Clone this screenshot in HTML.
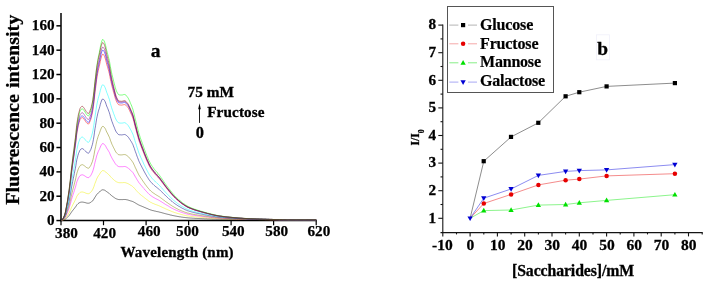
<!DOCTYPE html>
<html lang="en"><head><meta charset="utf-8"><title>Fluorescence spectra and saccharide response</title>
<style>html,body{margin:0;padding:0;background:#fff}svg{display:block}</style></head>
<body>
<svg width="709" height="285" viewBox="0 0 709 285">
<rect width="709" height="285" fill="#fff"/>
<g stroke="#000" stroke-width="1.5" fill="none">
<path d="M61.0 13.0 V221.20"/>
<path d="M60.25 220.55 H316.8" stroke-width="1.4"/>
<path d="M56.4 220.55 H61.0" stroke-width="1.5"/>
<path d="M56.4 196.21 H61.0" stroke-width="1.5"/>
<path d="M56.4 171.87 H61.0" stroke-width="1.5"/>
<path d="M56.4 147.53 H61.0" stroke-width="1.5"/>
<path d="M56.4 123.19 H61.0" stroke-width="1.5"/>
<path d="M56.4 98.85 H61.0" stroke-width="1.5"/>
<path d="M56.4 74.51 H61.0" stroke-width="1.5"/>
<path d="M56.4 50.17 H61.0" stroke-width="1.5"/>
<path d="M56.4 25.83 H61.0" stroke-width="1.5"/>
<path d="M61.0 220.55 V225.2" stroke-width="1.2"/>
<path d="M103.5 220.55 V225.2" stroke-width="1.2"/>
<path d="M146.1 220.55 V225.2" stroke-width="1.2"/>
<path d="M188.6 220.55 V225.2" stroke-width="1.2"/>
<path d="M231.1 220.55 V225.2" stroke-width="1.2"/>
<path d="M273.6 220.55 V225.2" stroke-width="1.2"/>
<path d="M316.2 220.55 V225.2" stroke-width="1.2"/>
</g>
<g fill="none" stroke-width="0.5" stroke-linejoin="round">
<path d="M61.0 220.6 L61.5 220.5 L62.1 220.4 L62.6 220.3 L63.1 220.2 L63.7 220.0 L64.2 219.8 L64.7 219.6 L65.3 219.2 L65.8 218.8 L66.3 218.4 L66.8 217.9 L67.4 217.4 L67.9 216.9 L68.4 216.3 L69.0 215.7 L69.5 215.0 L70.0 214.3 L70.6 213.5 L71.1 212.7 L71.6 211.9 L72.2 211.2 L72.7 210.5 L73.2 209.8 L73.8 209.2 L74.3 208.5 L74.8 207.8 L75.4 207.1 L75.9 206.4 L76.4 205.6 L76.9 204.8 L77.5 204.2 L78.0 203.7 L78.5 203.3 L79.1 203.0 L79.6 202.6 L80.1 202.4 L80.7 202.2 L81.2 202.1 L81.7 202.1 L82.3 202.1 L82.8 202.1 L83.3 202.2 L83.9 202.3 L84.4 202.4 L84.9 202.6 L85.5 202.7 L86.0 202.9 L86.5 203.0 L87.0 203.1 L87.6 203.2 L88.1 203.2 L88.6 203.2 L89.2 203.1 L89.7 202.9 L90.2 202.6 L90.8 202.3 L91.3 202.0 L91.8 201.5 L92.4 201.1 L92.9 200.5 L93.4 199.8 L94.0 199.0 L94.5 198.0 L95.0 197.2 L95.6 196.3 L96.1 195.5 L96.6 194.7 L97.2 194.1 L97.7 193.5 L98.2 193.0 L98.7 192.6 L99.3 192.1 L99.8 191.7 L100.3 191.1 L100.9 190.7 L101.4 190.3 L101.9 190.0 L102.5 189.8 L103.0 189.8 L103.5 189.9 L104.1 190.0 L104.6 190.2 L105.1 190.5 L105.7 190.9 L106.2 191.3 L106.7 191.7 L107.3 192.1 L107.8 192.4 L108.3 192.8 L108.8 193.1 L109.4 193.6 L109.9 194.1 L110.4 194.6 L111.0 195.1 L111.5 195.6 L112.0 196.0 L112.6 196.4 L113.1 196.8 L113.6 197.1 L114.2 197.5 L114.7 197.9 L115.2 198.2 L115.8 198.6 L116.3 198.8 L116.8 199.0 L117.4 199.2 L117.9 199.4 L118.4 199.5 L118.9 199.5 L119.5 199.6 L120.0 199.6 L120.5 199.6 L121.1 199.6 L121.6 199.6 L122.1 199.6 L122.7 199.6 L123.2 199.5 L123.7 199.5 L124.3 199.5 L124.8 199.5 L125.3 199.5 L125.9 199.6 L126.4 199.7 L126.9 199.8 L127.5 199.9 L128.0 200.1 L128.5 200.2 L129.0 200.4 L129.6 200.6 L130.1 200.8 L130.6 200.9 L131.2 201.1 L131.7 201.2 L132.2 201.4 L132.8 201.5 L133.3 201.8 L133.8 202.1 L134.4 202.4 L134.9 202.7 L135.4 203.0 L136.0 203.3 L136.5 203.7 L137.0 204.0 L137.6 204.3 L138.1 204.6 L138.6 204.9 L139.1 205.1 L139.7 205.4 L140.2 205.6 L140.7 205.8 L141.3 206.0 L141.8 206.3 L142.3 206.5 L142.9 206.7 L143.4 206.9 L143.9 207.2 L144.5 207.4 L145.0 207.6 L145.5 207.8 L146.1 208.1 L146.6 208.3 L147.1 208.5 L147.7 208.7 L148.2 209.0 L148.7 209.2 L149.2 209.4 L149.8 209.6 L150.3 209.8 L150.8 210.0 L151.4 210.2 L151.9 210.3 L152.4 210.5 L153.0 210.6 L153.5 210.7 L154.0 210.9 L154.6 211.0 L155.1 211.1 L155.6 211.2 L156.2 211.4 L156.7 211.5 L157.2 211.6 L157.8 211.7 L158.3 211.8 L158.8 211.9 L159.4 212.1 L159.9 212.2 L160.4 212.3 L160.9 212.5 L161.5 212.6 L162.0 212.8 L162.5 212.9 L163.1 213.1 L163.6 213.2 L164.1 213.3 L164.7 213.5 L165.2 213.6 L165.7 213.8 L166.3 213.9 L166.8 214.1 L167.3 214.2 L167.9 214.3 L168.4 214.4 L168.9 214.6 L169.5 214.7 L170.0 214.8 L170.5 215.0 L171.0 215.1 L171.6 215.2 L172.1 215.3 L172.6 215.5 L173.2 215.6 L173.7 215.7 L174.2 215.8 L174.8 215.9 L175.3 216.0 L175.8 216.1 L176.4 216.2 L176.9 216.3 L177.4 216.4 L178.0 216.5 L178.5 216.6 L179.0 216.7 L179.6 216.8 L180.1 216.8 L180.6 216.9 L181.1 217.0 L181.7 217.1 L182.2 217.2 L182.7 217.2 L183.3 217.3 L183.8 217.4 L184.3 217.4 L184.9 217.5 L185.4 217.6 L185.9 217.6 L186.5 217.7 L187.0 217.8 L187.5 217.8 L188.1 217.9 L188.6 217.9 L189.1 217.9 L189.7 218.0 L190.2 218.0 L190.7 218.1 L191.2 218.1 L191.8 218.1 L192.3 218.2 L192.8 218.2 L193.4 218.2 L193.9 218.3 L194.4 218.3 L195.0 218.3 L195.5 218.4 L196.0 218.4 L196.6 218.4 L197.1 218.4 L197.6 218.5 L198.2 218.5 L198.7 218.5 L199.2 218.5 L199.8 218.6 L200.3 218.6 L200.8 218.6 L201.3 218.6 L201.9 218.7 L202.4 218.7 L202.9 218.7 L203.5 218.7 L204.0 218.7 L204.5 218.8 L205.1 218.8 L205.6 218.8 L206.1 218.8 L206.7 218.8 L207.2 218.9 L207.7 218.9 L208.3 218.9 L208.8 218.9 L209.3 218.9 L209.9 219.0 L210.4 219.0 L210.9 219.0 L211.4 219.0 L212.0 219.0 L212.5 219.1 L213.0 219.1 L213.6 219.1 L214.1 219.1 L214.6 219.1 L215.2 219.1 L215.7 219.1 L216.2 219.2 L216.8 219.2 L217.3 219.2 L217.8 219.2 L218.4 219.2 L218.9 219.2 L219.4 219.2 L220.0 219.2 L220.5 219.2 L221.0 219.3 L221.6 219.3 L222.1 219.3 L222.6 219.3 L223.1 219.3 L223.7 219.3 L224.2 219.3 L224.7 219.3 L225.3 219.3 L225.8 219.3 L226.3 219.3 L226.9 219.3 L227.4 219.3 L227.9 219.3 L228.5 219.3 L229.0 219.4 L229.5 219.4 L230.1 219.4 L230.6 219.4 L231.1 219.4 L231.7 219.4 L232.2 219.4 L232.7 219.4 L233.2 219.4 L233.8 219.4 L234.3 219.4 L234.8 219.4 L235.4 219.4 L235.9 219.4 L236.4 219.4 L237.0 219.4 L237.5 219.5 L238.0 219.5 L238.6 219.5 L239.1 219.5 L239.6 219.5 L240.2 219.5 L240.7 219.5 L241.2 219.5 L241.8 219.5 L242.3 219.5 L242.8 219.5 L243.3 219.5 L243.9 219.5 L244.4 219.5 L244.9 219.6 L245.5 219.6 L246.0 219.6 L246.5 219.6 L247.1 219.6 L247.6 219.6 L248.1 219.6 L248.7 219.6 L249.2 219.6 L249.7 219.6 L250.3 219.6 L250.8 219.6 L251.3 219.6 L251.9 219.6 L252.4 219.6 L252.9 219.6 L253.4 219.6 L254.0 219.6 L254.5 219.6 L255.0 219.6 L255.6 219.6 L256.1 219.6 L256.6 219.7 L257.2 219.7 L257.7 219.7 L258.2 219.7 L258.8 219.7 L259.3 219.7 L259.8 219.7 L260.4 219.7 L260.9 219.7 L261.4 219.7 L262.0 219.7 L262.5 219.7 L263.0 219.7 L263.5 219.7 L264.1 219.7 L264.6 219.7 L265.1 219.7 L265.7 219.8 L266.2 219.8 L266.7 219.8 L267.3 219.8 L267.8 219.8 L268.3 219.8 L268.9 219.8 L269.4 219.8 L269.9 219.8 L270.5 219.8 L271.0 219.9 L271.5 219.9 L272.1 219.9 L272.6 219.9 L273.1 219.9 L273.6 219.9 L274.2 219.9 L274.7 219.9 L275.2 219.9 L275.8 220.0 L276.3 220.0 L276.8 220.0 L277.4 220.0 L277.9 220.0 L278.4 220.0 L279.0 220.0 L279.5 220.0 L280.0 220.0 L280.6 220.1 L281.1 220.1 L281.6 220.1 L282.2 220.1 L282.7 220.1 L283.2 220.1 L283.8 220.1 L284.3 220.1 L284.8 220.1 L285.3 220.1 L285.9 220.2 L286.4 220.2 L286.9 220.2 L287.5 220.2 L288.0 220.2 L288.5 220.2 L289.1 220.2 L289.6 220.2 L290.1 220.2 L290.7 220.2 L291.2 220.2 L291.7 220.2 L292.3 220.2 L292.8 220.2 L293.3 220.2 L293.9 220.2 L294.4 220.2 L294.9 220.2 L295.4 220.2 L296.0 220.2 L296.5 220.2 L297.0 220.2 L297.6 220.2 L298.1 220.2 L298.6 220.2 L299.2 220.2 L299.7 220.2 L300.2 220.2 L300.8 220.2 L301.3 220.2 L301.8 220.2 L302.4 220.2 L302.9 220.2 L303.4 220.2 L304.0 220.2 L304.5 220.2 L305.0 220.2 L305.5 220.2 L306.1 220.2 L306.6 220.2 L307.1 220.2 L307.7 220.2 L308.2 220.2 L308.7 220.2 L309.3 220.2 L309.8 220.2 L310.3 220.2 L310.9 220.2 L311.4 220.2 L311.9 220.2 L312.5 220.2 L313.0 220.2 L313.5 220.2 L314.1 220.2 L314.6 220.2 L315.1 220.2 L315.6 220.2 L316.2 220.2" stroke="#000000"/>
<path d="M61.0 220.6 L61.5 220.5 L62.1 220.4 L62.6 220.2 L63.1 220.0 L63.7 219.7 L64.2 219.4 L64.7 219.0 L65.3 218.5 L65.8 217.9 L66.3 217.2 L66.8 216.4 L67.4 215.7 L67.9 214.9 L68.4 214.0 L69.0 213.0 L69.5 212.0 L70.0 210.9 L70.6 209.7 L71.1 208.4 L71.6 207.2 L72.2 206.1 L72.7 205.0 L73.2 204.0 L73.8 202.9 L74.3 201.9 L74.8 200.9 L75.4 199.8 L75.9 198.6 L76.4 197.4 L76.9 196.2 L77.5 195.3 L78.0 194.6 L78.5 193.9 L79.1 193.4 L79.6 192.9 L80.1 192.5 L80.7 192.2 L81.2 192.1 L81.7 192.0 L82.3 192.0 L82.8 192.0 L83.3 192.2 L83.9 192.3 L84.4 192.5 L84.9 192.7 L85.5 193.0 L86.0 193.2 L86.5 193.4 L87.0 193.5 L87.6 193.7 L88.1 193.7 L88.6 193.7 L89.2 193.5 L89.7 193.1 L90.2 192.7 L90.8 192.2 L91.3 191.6 L91.8 190.9 L92.4 190.0 L92.9 189.1 L93.4 187.9 L94.0 186.4 L94.5 184.8 L95.0 183.3 L95.6 181.9 L96.1 180.5 L96.6 179.1 L97.2 177.9 L97.7 177.0 L98.2 176.1 L98.7 175.4 L99.3 174.6 L99.8 173.8 L100.3 172.9 L100.9 172.1 L101.4 171.5 L101.9 171.0 L102.5 170.6 L103.0 170.5 L103.5 170.7 L104.1 170.9 L104.6 171.1 L105.1 171.5 L105.7 171.9 L106.2 172.5 L106.7 173.0 L107.3 173.4 L107.8 173.8 L108.3 174.3 L108.8 174.7 L109.4 175.2 L109.9 175.8 L110.4 176.5 L111.0 177.2 L111.5 177.7 L112.0 178.2 L112.6 178.7 L113.1 179.2 L113.6 179.7 L114.2 180.1 L114.7 180.6 L115.2 181.0 L115.8 181.4 L116.3 181.7 L116.8 182.0 L117.4 182.2 L117.9 182.4 L118.4 182.6 L118.9 182.6 L119.5 182.7 L120.0 182.7 L120.5 182.7 L121.1 182.7 L121.6 182.7 L122.1 182.7 L122.7 182.7 L123.2 182.6 L123.7 182.6 L124.3 182.6 L124.8 182.6 L125.3 182.7 L125.9 182.8 L126.4 183.0 L126.9 183.2 L127.5 183.4 L128.0 183.6 L128.5 183.9 L129.0 184.2 L129.6 184.5 L130.1 184.9 L130.6 185.2 L131.2 185.5 L131.7 185.8 L132.2 186.2 L132.8 186.6 L133.3 187.0 L133.8 187.6 L134.4 188.2 L134.9 188.9 L135.4 189.5 L136.0 190.1 L136.5 190.7 L137.0 191.3 L137.6 191.9 L138.1 192.4 L138.6 193.0 L139.1 193.5 L139.7 193.9 L140.2 194.4 L140.7 194.8 L141.3 195.2 L141.8 195.7 L142.3 196.1 L142.9 196.5 L143.4 196.9 L143.9 197.3 L144.5 197.8 L145.0 198.2 L145.5 198.6 L146.1 199.0 L146.6 199.4 L147.1 199.8 L147.7 200.2 L148.2 200.6 L148.7 201.0 L149.2 201.4 L149.8 201.7 L150.3 202.1 L150.8 202.4 L151.4 202.6 L151.9 202.9 L152.4 203.2 L153.0 203.4 L153.5 203.6 L154.0 203.9 L154.6 204.1 L155.1 204.3 L155.6 204.5 L156.2 204.7 L156.7 204.9 L157.2 205.1 L157.8 205.3 L158.3 205.5 L158.8 205.7 L159.4 205.9 L159.9 206.2 L160.4 206.4 L160.9 206.6 L161.5 206.9 L162.0 207.1 L162.5 207.4 L163.1 207.6 L163.6 207.9 L164.1 208.1 L164.7 208.4 L165.2 208.6 L165.7 208.9 L166.3 209.1 L166.8 209.4 L167.3 209.6 L167.9 209.8 L168.4 210.0 L168.9 210.3 L169.5 210.5 L170.0 210.7 L170.5 210.9 L171.0 211.1 L171.6 211.4 L172.1 211.6 L172.6 211.8 L173.2 212.0 L173.7 212.2 L174.2 212.4 L174.8 212.5 L175.3 212.7 L175.8 212.9 L176.4 213.1 L176.9 213.2 L177.4 213.4 L178.0 213.6 L178.5 213.7 L179.0 213.9 L179.6 214.0 L180.1 214.2 L180.6 214.3 L181.1 214.5 L181.7 214.6 L182.2 214.7 L182.7 214.8 L183.3 215.0 L183.8 215.1 L184.3 215.2 L184.9 215.3 L185.4 215.4 L185.9 215.6 L186.5 215.7 L187.0 215.8 L187.5 215.9 L188.1 215.9 L188.6 216.0 L189.1 216.1 L189.7 216.2 L190.2 216.3 L190.7 216.3 L191.2 216.4 L191.8 216.5 L192.3 216.5 L192.8 216.6 L193.4 216.6 L193.9 216.7 L194.4 216.8 L195.0 216.8 L195.5 216.9 L196.0 216.9 L196.6 217.0 L197.1 217.0 L197.6 217.1 L198.2 217.1 L198.7 217.2 L199.2 217.2 L199.8 217.3 L200.3 217.3 L200.8 217.4 L201.3 217.4 L201.9 217.5 L202.4 217.5 L202.9 217.5 L203.5 217.6 L204.0 217.6 L204.5 217.7 L205.1 217.7 L205.6 217.8 L206.1 217.8 L206.7 217.8 L207.2 217.9 L207.7 217.9 L208.3 218.0 L208.8 218.0 L209.3 218.0 L209.9 218.1 L210.4 218.1 L210.9 218.2 L211.4 218.2 L212.0 218.2 L212.5 218.3 L213.0 218.3 L213.6 218.3 L214.1 218.4 L214.6 218.4 L215.2 218.4 L215.7 218.5 L216.2 218.5 L216.8 218.5 L217.3 218.6 L217.8 218.6 L218.4 218.6 L218.9 218.6 L219.4 218.7 L220.0 218.7 L220.5 218.7 L221.0 218.7 L221.6 218.7 L222.1 218.8 L222.6 218.8 L223.1 218.8 L223.7 218.8 L224.2 218.8 L224.7 218.8 L225.3 218.9 L225.8 218.9 L226.3 218.9 L226.9 218.9 L227.4 218.9 L227.9 218.9 L228.5 219.0 L229.0 219.0 L229.5 219.0 L230.1 219.0 L230.6 219.0 L231.1 219.0 L231.7 219.0 L232.2 219.0 L232.7 219.1 L233.2 219.1 L233.8 219.1 L234.3 219.1 L234.8 219.1 L235.4 219.1 L235.9 219.1 L236.4 219.2 L237.0 219.2 L237.5 219.2 L238.0 219.2 L238.6 219.2 L239.1 219.2 L239.6 219.2 L240.2 219.2 L240.7 219.3 L241.2 219.3 L241.8 219.3 L242.3 219.3 L242.8 219.3 L243.3 219.3 L243.9 219.3 L244.4 219.4 L244.9 219.4 L245.5 219.4 L246.0 219.4 L246.5 219.4 L247.1 219.4 L247.6 219.4 L248.1 219.4 L248.7 219.4 L249.2 219.4 L249.7 219.5 L250.3 219.5 L250.8 219.5 L251.3 219.5 L251.9 219.5 L252.4 219.5 L252.9 219.5 L253.4 219.5 L254.0 219.5 L254.5 219.5 L255.0 219.5 L255.6 219.5 L256.1 219.5 L256.6 219.5 L257.2 219.5 L257.7 219.5 L258.2 219.5 L258.8 219.6 L259.3 219.6 L259.8 219.6 L260.4 219.6 L260.9 219.6 L261.4 219.6 L262.0 219.6 L262.5 219.6 L263.0 219.6 L263.5 219.6 L264.1 219.6 L264.6 219.6 L265.1 219.7 L265.7 219.7 L266.2 219.7 L266.7 219.7 L267.3 219.7 L267.8 219.7 L268.3 219.7 L268.9 219.7 L269.4 219.7 L269.9 219.7 L270.5 219.8 L271.0 219.8 L271.5 219.8 L272.1 219.8 L272.6 219.8 L273.1 219.8 L273.6 219.8 L274.2 219.8 L274.7 219.9 L275.2 219.9 L275.8 219.9 L276.3 219.9 L276.8 219.9 L277.4 219.9 L277.9 219.9 L278.4 219.9 L279.0 220.0 L279.5 220.0 L280.0 220.0 L280.6 220.0 L281.1 220.0 L281.6 220.0 L282.2 220.0 L282.7 220.0 L283.2 220.1 L283.8 220.1 L284.3 220.1 L284.8 220.1 L285.3 220.1 L285.9 220.1 L286.4 220.1 L286.9 220.1 L287.5 220.1 L288.0 220.1 L288.5 220.1 L289.1 220.1 L289.6 220.2 L290.1 220.2 L290.7 220.2 L291.2 220.2 L291.7 220.2 L292.3 220.2 L292.8 220.2 L293.3 220.2 L293.9 220.2 L294.4 220.2 L294.9 220.2 L295.4 220.2 L296.0 220.2 L296.5 220.2 L297.0 220.2 L297.6 220.2 L298.1 220.2 L298.6 220.2 L299.2 220.2 L299.7 220.2 L300.2 220.2 L300.8 220.2 L301.3 220.2 L301.8 220.2 L302.4 220.2 L302.9 220.2 L303.4 220.2 L304.0 220.2 L304.5 220.2 L305.0 220.2 L305.5 220.2 L306.1 220.2 L306.6 220.2 L307.1 220.2 L307.7 220.2 L308.2 220.2 L308.7 220.2 L309.3 220.2 L309.8 220.2 L310.3 220.2 L310.9 220.2 L311.4 220.2 L311.9 220.2 L312.5 220.2 L313.0 220.2 L313.5 220.2 L314.1 220.2 L314.6 220.2 L315.1 220.2 L315.6 220.2 L316.2 220.2" stroke="#eeee00"/>
<path d="M61.0 220.6 L61.5 220.5 L62.1 220.3 L62.6 220.0 L63.1 219.6 L63.7 219.2 L64.2 218.7 L64.7 218.1 L65.3 217.3 L65.8 216.3 L66.3 215.2 L66.8 214.0 L67.4 212.8 L67.9 211.5 L68.4 210.0 L69.0 208.5 L69.5 206.8 L70.0 205.1 L70.6 203.1 L71.1 201.2 L71.6 199.2 L72.2 197.4 L72.7 195.7 L73.2 194.0 L73.8 192.4 L74.3 190.7 L74.8 189.0 L75.4 187.3 L75.9 185.5 L76.4 183.4 L76.9 181.7 L77.5 180.2 L78.0 179.0 L78.5 177.9 L79.1 177.0 L79.6 176.3 L80.1 175.6 L80.7 175.2 L81.2 175.0 L81.7 174.9 L82.3 174.8 L82.8 174.9 L83.3 175.1 L83.9 175.4 L84.4 175.7 L84.9 176.0 L85.5 176.4 L86.0 176.8 L86.5 177.1 L87.0 177.3 L87.6 177.5 L88.1 177.6 L88.6 177.6 L89.2 177.3 L89.7 176.8 L90.2 176.1 L90.8 175.4 L91.3 174.5 L91.8 173.4 L92.4 172.2 L92.9 170.8 L93.4 169.1 L94.0 166.9 L94.5 164.5 L95.0 162.3 L95.6 160.2 L96.1 158.1 L96.6 156.1 L97.2 154.4 L97.7 153.0 L98.2 151.7 L98.7 150.6 L99.3 149.5 L99.8 148.3 L100.3 147.0 L100.9 145.8 L101.4 144.9 L101.9 144.2 L102.5 143.6 L103.0 143.5 L103.5 143.8 L104.1 144.2 L104.6 144.7 L105.1 145.3 L105.7 146.2 L106.2 147.2 L106.7 148.2 L107.3 149.0 L107.8 149.8 L108.3 150.7 L108.8 151.5 L109.4 152.5 L109.9 153.7 L110.4 155.0 L111.0 156.2 L111.5 157.2 L112.0 158.2 L112.6 159.2 L113.1 160.1 L113.6 161.0 L114.2 161.8 L114.7 162.7 L115.2 163.5 L115.8 164.3 L116.3 164.9 L116.8 165.4 L117.4 165.8 L117.9 166.2 L118.4 166.5 L118.9 166.6 L119.5 166.7 L120.0 166.7 L120.5 166.7 L121.1 166.7 L121.6 166.7 L122.1 166.7 L122.7 166.7 L123.2 166.6 L123.7 166.6 L124.3 166.5 L124.8 166.5 L125.3 166.6 L125.9 166.8 L126.4 167.0 L126.9 167.3 L127.5 167.7 L128.0 168.0 L128.5 168.3 L129.0 168.8 L129.6 169.3 L130.1 169.8 L130.6 170.4 L131.2 170.8 L131.7 171.3 L132.2 171.9 L132.8 172.5 L133.3 173.2 L133.8 174.1 L134.4 175.0 L134.9 176.0 L135.4 176.9 L136.0 177.8 L136.5 178.7 L137.0 179.6 L137.6 180.5 L138.1 181.3 L138.6 182.1 L139.1 182.9 L139.7 183.5 L140.2 184.2 L140.7 184.9 L141.3 185.5 L141.8 186.1 L142.3 186.7 L142.9 187.4 L143.4 188.0 L143.9 188.6 L144.5 189.2 L145.0 189.8 L145.5 190.4 L146.1 191.0 L146.6 191.6 L147.1 192.2 L147.7 192.7 L148.2 193.3 L148.7 193.8 L149.2 194.3 L149.8 194.8 L150.3 195.2 L150.8 195.6 L151.4 196.0 L151.9 196.4 L152.4 196.7 L153.0 197.1 L153.5 197.4 L154.0 197.7 L154.6 198.0 L155.1 198.3 L155.6 198.6 L156.2 198.9 L156.7 199.1 L157.2 199.4 L157.8 199.7 L158.3 199.9 L158.8 200.2 L159.4 200.5 L159.9 200.9 L160.4 201.2 L160.9 201.5 L161.5 201.8 L162.0 202.2 L162.5 202.5 L163.1 202.9 L163.6 203.2 L164.1 203.5 L164.7 203.9 L165.2 204.2 L165.7 204.6 L166.3 204.9 L166.8 205.2 L167.3 205.5 L167.9 205.8 L168.4 206.1 L168.9 206.4 L169.5 206.8 L170.0 207.1 L170.5 207.4 L171.0 207.7 L171.6 208.0 L172.1 208.2 L172.6 208.5 L173.2 208.8 L173.7 209.1 L174.2 209.3 L174.8 209.6 L175.3 209.8 L175.8 210.1 L176.4 210.3 L176.9 210.5 L177.4 210.7 L178.0 211.0 L178.5 211.2 L179.0 211.4 L179.6 211.6 L180.1 211.8 L180.6 212.0 L181.1 212.2 L181.7 212.4 L182.2 212.6 L182.7 212.7 L183.3 212.9 L183.8 213.1 L184.3 213.2 L184.9 213.4 L185.4 213.6 L185.9 213.7 L186.5 213.9 L187.0 214.0 L187.5 214.1 L188.1 214.3 L188.6 214.4 L189.1 214.5 L189.7 214.6 L190.2 214.7 L190.7 214.8 L191.2 214.9 L191.8 215.0 L192.3 215.1 L192.8 215.2 L193.4 215.2 L193.9 215.3 L194.4 215.4 L195.0 215.5 L195.5 215.6 L196.0 215.6 L196.6 215.7 L197.1 215.8 L197.6 215.9 L198.2 215.9 L198.7 216.0 L199.2 216.1 L199.8 216.1 L200.3 216.2 L200.8 216.3 L201.3 216.3 L201.9 216.4 L202.4 216.5 L202.9 216.5 L203.5 216.6 L204.0 216.6 L204.5 216.7 L205.1 216.8 L205.6 216.8 L206.1 216.9 L206.7 217.0 L207.2 217.0 L207.7 217.1 L208.3 217.1 L208.8 217.2 L209.3 217.3 L209.9 217.3 L210.4 217.4 L210.9 217.4 L211.4 217.5 L212.0 217.5 L212.5 217.6 L213.0 217.6 L213.6 217.7 L214.1 217.7 L214.6 217.8 L215.2 217.8 L215.7 217.9 L216.2 217.9 L216.8 218.0 L217.3 218.0 L217.8 218.0 L218.4 218.1 L218.9 218.1 L219.4 218.1 L220.0 218.2 L220.5 218.2 L221.0 218.2 L221.6 218.3 L222.1 218.3 L222.6 218.3 L223.1 218.4 L223.7 218.4 L224.2 218.4 L224.7 218.4 L225.3 218.5 L225.8 218.5 L226.3 218.5 L226.9 218.5 L227.4 218.6 L227.9 218.6 L228.5 218.6 L229.0 218.6 L229.5 218.6 L230.1 218.7 L230.6 218.7 L231.1 218.7 L231.7 218.7 L232.2 218.7 L232.7 218.8 L233.2 218.8 L233.8 218.8 L234.3 218.8 L234.8 218.8 L235.4 218.9 L235.9 218.9 L236.4 218.9 L237.0 218.9 L237.5 218.9 L238.0 219.0 L238.6 219.0 L239.1 219.0 L239.6 219.0 L240.2 219.0 L240.7 219.0 L241.2 219.1 L241.8 219.1 L242.3 219.1 L242.8 219.1 L243.3 219.1 L243.9 219.2 L244.4 219.2 L244.9 219.2 L245.5 219.2 L246.0 219.2 L246.5 219.2 L247.1 219.3 L247.6 219.3 L248.1 219.3 L248.7 219.3 L249.2 219.3 L249.7 219.3 L250.3 219.3 L250.8 219.3 L251.3 219.3 L251.9 219.4 L252.4 219.4 L252.9 219.4 L253.4 219.4 L254.0 219.4 L254.5 219.4 L255.0 219.4 L255.6 219.4 L256.1 219.4 L256.6 219.4 L257.2 219.4 L257.7 219.4 L258.2 219.4 L258.8 219.5 L259.3 219.5 L259.8 219.5 L260.4 219.5 L260.9 219.5 L261.4 219.5 L262.0 219.5 L262.5 219.5 L263.0 219.5 L263.5 219.5 L264.1 219.5 L264.6 219.6 L265.1 219.6 L265.7 219.6 L266.2 219.6 L266.7 219.6 L267.3 219.6 L267.8 219.6 L268.3 219.6 L268.9 219.7 L269.4 219.7 L269.9 219.7 L270.5 219.7 L271.0 219.7 L271.5 219.7 L272.1 219.7 L272.6 219.7 L273.1 219.8 L273.6 219.8 L274.2 219.8 L274.7 219.8 L275.2 219.8 L275.8 219.8 L276.3 219.8 L276.8 219.8 L277.4 219.9 L277.9 219.9 L278.4 219.9 L279.0 219.9 L279.5 219.9 L280.0 219.9 L280.6 219.9 L281.1 220.0 L281.6 220.0 L282.2 220.0 L282.7 220.0 L283.2 220.0 L283.8 220.0 L284.3 220.0 L284.8 220.0 L285.3 220.0 L285.9 220.1 L286.4 220.1 L286.9 220.1 L287.5 220.1 L288.0 220.1 L288.5 220.1 L289.1 220.1 L289.6 220.1 L290.1 220.1 L290.7 220.1 L291.2 220.1 L291.7 220.1 L292.3 220.1 L292.8 220.1 L293.3 220.1 L293.9 220.1 L294.4 220.1 L294.9 220.1 L295.4 220.1 L296.0 220.1 L296.5 220.1 L297.0 220.1 L297.6 220.1 L298.1 220.1 L298.6 220.1 L299.2 220.1 L299.7 220.1 L300.2 220.1 L300.8 220.1 L301.3 220.1 L301.8 220.1 L302.4 220.1 L302.9 220.1 L303.4 220.1 L304.0 220.1 L304.5 220.1 L305.0 220.1 L305.5 220.1 L306.1 220.1 L306.6 220.1 L307.1 220.1 L307.7 220.1 L308.2 220.1 L308.7 220.1 L309.3 220.1 L309.8 220.1 L310.3 220.1 L310.9 220.1 L311.4 220.1 L311.9 220.1 L312.5 220.1 L313.0 220.1 L313.5 220.1 L314.1 220.1 L314.6 220.1 L315.1 220.1 L315.6 220.1 L316.2 220.1" stroke="#ff00ff"/>
<path d="M61.0 220.6 L61.5 220.5 L62.1 220.2 L62.6 219.9 L63.1 219.4 L63.7 218.9 L64.2 218.3 L64.7 217.6 L65.3 216.6 L65.8 215.4 L66.3 214.0 L66.8 212.5 L67.4 211.1 L67.9 209.5 L68.4 207.7 L69.0 205.8 L69.5 203.8 L70.0 201.6 L70.6 199.3 L71.1 196.9 L71.6 194.5 L72.2 192.3 L72.7 190.2 L73.2 188.2 L73.8 186.1 L74.3 184.1 L74.8 182.1 L75.4 180.0 L75.9 177.7 L76.4 175.3 L76.9 173.1 L77.5 171.3 L78.0 169.8 L78.5 168.5 L79.1 167.4 L79.6 166.5 L80.1 165.7 L80.7 165.2 L81.2 165.0 L81.7 164.8 L82.3 164.7 L82.8 164.8 L83.3 165.1 L83.9 165.4 L84.4 165.8 L84.9 166.2 L85.5 166.7 L86.0 167.1 L86.5 167.5 L87.0 167.8 L87.6 168.0 L88.1 168.2 L88.6 168.2 L89.2 167.8 L89.7 167.1 L90.2 166.3 L90.8 165.4 L91.3 164.3 L91.8 163.0 L92.4 161.5 L92.9 159.8 L93.4 157.7 L94.0 154.9 L94.5 152.0 L95.0 149.3 L95.6 146.8 L96.1 144.2 L96.6 141.8 L97.2 139.6 L97.7 137.9 L98.2 136.3 L98.7 135.0 L99.3 133.6 L99.8 132.1 L100.3 130.6 L100.9 129.1 L101.4 127.9 L101.9 127.0 L102.5 126.4 L103.0 126.3 L103.5 126.6 L104.1 127.1 L104.6 127.7 L105.1 128.4 L105.7 129.5 L106.2 130.8 L106.7 132.0 L107.3 133.0 L107.8 134.0 L108.3 135.0 L108.8 136.1 L109.4 137.3 L109.9 138.7 L110.4 140.3 L111.0 141.8 L111.5 143.1 L112.0 144.4 L112.6 145.5 L113.1 146.7 L113.6 147.7 L114.2 148.8 L114.7 149.8 L115.2 150.9 L115.8 151.9 L116.3 152.6 L116.8 153.2 L117.4 153.7 L117.9 154.2 L118.4 154.6 L118.9 154.7 L119.5 154.8 L120.0 154.8 L120.5 154.9 L121.1 154.9 L121.6 154.9 L122.1 154.8 L122.7 154.8 L123.2 154.7 L123.7 154.6 L124.3 154.6 L124.8 154.6 L125.3 154.7 L125.9 154.9 L126.4 155.2 L126.9 155.6 L127.5 156.0 L128.0 156.4 L128.5 156.8 L129.0 157.4 L129.6 158.0 L130.1 158.7 L130.6 159.3 L131.2 160.0 L131.7 160.6 L132.2 161.4 L132.8 162.2 L133.3 163.1 L133.8 164.2 L134.4 165.4 L134.9 166.6 L135.4 167.8 L136.0 168.9 L136.5 170.1 L137.0 171.2 L137.6 172.3 L138.1 173.4 L138.6 174.4 L139.1 175.3 L139.7 176.2 L140.2 177.0 L140.7 177.8 L141.3 178.6 L141.8 179.4 L142.3 180.2 L142.9 181.0 L143.4 181.8 L143.9 182.5 L144.5 183.3 L145.0 184.1 L145.5 184.8 L146.1 185.5 L146.6 186.2 L147.1 186.9 L147.7 187.6 L148.2 188.2 L148.7 188.8 L149.2 189.5 L149.8 190.0 L150.3 190.5 L150.8 191.0 L151.4 191.5 L151.9 191.9 L152.4 192.3 L153.0 192.7 L153.5 193.1 L154.0 193.5 L154.6 193.8 L155.1 194.2 L155.6 194.5 L156.2 194.9 L156.7 195.2 L157.2 195.5 L157.8 195.8 L158.3 196.1 L158.8 196.5 L159.4 196.8 L159.9 197.2 L160.4 197.6 L160.9 198.0 L161.5 198.4 L162.0 198.8 L162.5 199.2 L163.1 199.6 L163.6 200.0 L164.1 200.4 L164.7 200.8 L165.2 201.2 L165.7 201.6 L166.3 202.0 L166.8 202.4 L167.3 202.7 L167.9 203.1 L168.4 203.5 L168.9 203.8 L169.5 204.2 L170.0 204.6 L170.5 204.9 L171.0 205.3 L171.6 205.6 L172.1 206.0 L172.6 206.3 L173.2 206.6 L173.7 206.9 L174.2 207.2 L174.8 207.5 L175.3 207.8 L175.8 208.1 L176.4 208.4 L176.9 208.7 L177.4 208.9 L178.0 209.2 L178.5 209.5 L179.0 209.7 L179.6 210.0 L180.1 210.2 L180.6 210.4 L181.1 210.7 L181.7 210.9 L182.2 211.1 L182.7 211.3 L183.3 211.5 L183.8 211.7 L184.3 211.9 L184.9 212.1 L185.4 212.3 L185.9 212.5 L186.5 212.6 L187.0 212.8 L187.5 213.0 L188.1 213.1 L188.6 213.2 L189.1 213.4 L189.7 213.5 L190.2 213.6 L190.7 213.7 L191.2 213.9 L191.8 214.0 L192.3 214.1 L192.8 214.2 L193.4 214.3 L193.9 214.4 L194.4 214.5 L195.0 214.6 L195.5 214.7 L196.0 214.8 L196.6 214.8 L197.1 214.9 L197.6 215.0 L198.2 215.1 L198.7 215.2 L199.2 215.3 L199.8 215.3 L200.3 215.4 L200.8 215.5 L201.3 215.6 L201.9 215.7 L202.4 215.7 L202.9 215.8 L203.5 215.9 L204.0 216.0 L204.5 216.1 L205.1 216.1 L205.6 216.2 L206.1 216.3 L206.7 216.4 L207.2 216.4 L207.7 216.5 L208.3 216.6 L208.8 216.6 L209.3 216.7 L209.9 216.8 L210.4 216.8 L210.9 216.9 L211.4 217.0 L212.0 217.0 L212.5 217.1 L213.0 217.2 L213.6 217.2 L214.1 217.3 L214.6 217.3 L215.2 217.4 L215.7 217.5 L216.2 217.5 L216.8 217.6 L217.3 217.6 L217.8 217.7 L218.4 217.7 L218.9 217.8 L219.4 217.8 L220.0 217.8 L220.5 217.9 L221.0 217.9 L221.6 218.0 L222.1 218.0 L222.6 218.0 L223.1 218.1 L223.7 218.1 L224.2 218.1 L224.7 218.2 L225.3 218.2 L225.8 218.2 L226.3 218.2 L226.9 218.3 L227.4 218.3 L227.9 218.3 L228.5 218.4 L229.0 218.4 L229.5 218.4 L230.1 218.4 L230.6 218.5 L231.1 218.5 L231.7 218.5 L232.2 218.5 L232.7 218.6 L233.2 218.6 L233.8 218.6 L234.3 218.6 L234.8 218.7 L235.4 218.7 L235.9 218.7 L236.4 218.7 L237.0 218.8 L237.5 218.8 L238.0 218.8 L238.6 218.8 L239.1 218.8 L239.6 218.9 L240.2 218.9 L240.7 218.9 L241.2 218.9 L241.8 218.9 L242.3 219.0 L242.8 219.0 L243.3 219.0 L243.9 219.0 L244.4 219.1 L244.9 219.1 L245.5 219.1 L246.0 219.1 L246.5 219.1 L247.1 219.2 L247.6 219.2 L248.1 219.2 L248.7 219.2 L249.2 219.2 L249.7 219.2 L250.3 219.2 L250.8 219.2 L251.3 219.3 L251.9 219.3 L252.4 219.3 L252.9 219.3 L253.4 219.3 L254.0 219.3 L254.5 219.3 L255.0 219.3 L255.6 219.3 L256.1 219.3 L256.6 219.4 L257.2 219.4 L257.7 219.4 L258.2 219.4 L258.8 219.4 L259.3 219.4 L259.8 219.4 L260.4 219.4 L260.9 219.4 L261.4 219.4 L262.0 219.4 L262.5 219.5 L263.0 219.5 L263.5 219.5 L264.1 219.5 L264.6 219.5 L265.1 219.5 L265.7 219.5 L266.2 219.5 L266.7 219.5 L267.3 219.6 L267.8 219.6 L268.3 219.6 L268.9 219.6 L269.4 219.6 L269.9 219.6 L270.5 219.6 L271.0 219.7 L271.5 219.7 L272.1 219.7 L272.6 219.7 L273.1 219.7 L273.6 219.7 L274.2 219.7 L274.7 219.7 L275.2 219.8 L275.8 219.8 L276.3 219.8 L276.8 219.8 L277.4 219.8 L277.9 219.8 L278.4 219.8 L279.0 219.9 L279.5 219.9 L280.0 219.9 L280.6 219.9 L281.1 219.9 L281.6 219.9 L282.2 219.9 L282.7 220.0 L283.2 220.0 L283.8 220.0 L284.3 220.0 L284.8 220.0 L285.3 220.0 L285.9 220.0 L286.4 220.0 L286.9 220.0 L287.5 220.0 L288.0 220.1 L288.5 220.1 L289.1 220.1 L289.6 220.1 L290.1 220.1 L290.7 220.1 L291.2 220.1 L291.7 220.1 L292.3 220.1 L292.8 220.1 L293.3 220.1 L293.9 220.1 L294.4 220.1 L294.9 220.1 L295.4 220.1 L296.0 220.1 L296.5 220.1 L297.0 220.1 L297.6 220.1 L298.1 220.1 L298.6 220.1 L299.2 220.1 L299.7 220.1 L300.2 220.1 L300.8 220.1 L301.3 220.1 L301.8 220.1 L302.4 220.1 L302.9 220.1 L303.4 220.1 L304.0 220.1 L304.5 220.1 L305.0 220.1 L305.5 220.1 L306.1 220.1 L306.6 220.1 L307.1 220.1 L307.7 220.1 L308.2 220.1 L308.7 220.1 L309.3 220.1 L309.8 220.1 L310.3 220.1 L310.9 220.1 L311.4 220.1 L311.9 220.1 L312.5 220.1 L313.0 220.1 L313.5 220.1 L314.1 220.1 L314.6 220.1 L315.1 220.1 L315.6 220.1 L316.2 220.1" stroke="#808000"/>
<path d="M61.0 220.6 L61.5 220.4 L62.1 220.1 L62.6 219.7 L63.1 219.1 L63.7 218.4 L64.2 217.7 L64.7 216.7 L65.3 215.4 L65.8 213.9 L66.3 212.1 L66.8 210.2 L67.4 208.3 L67.9 206.3 L68.4 204.0 L69.0 201.5 L69.5 199.0 L70.0 196.2 L70.6 193.2 L71.1 190.1 L71.6 187.0 L72.2 184.2 L72.7 181.5 L73.2 178.8 L73.8 176.2 L74.3 173.6 L74.8 171.0 L75.4 168.3 L75.9 165.4 L76.4 162.2 L76.9 159.4 L77.5 157.2 L78.0 155.2 L78.5 153.5 L79.1 152.2 L79.6 150.9 L80.1 150.0 L80.7 149.3 L81.2 149.0 L81.7 148.7 L82.3 148.6 L82.8 148.8 L83.3 149.1 L83.9 149.6 L84.4 150.1 L84.9 150.6 L85.5 151.2 L86.0 151.8 L86.5 152.2 L87.0 152.6 L87.6 152.9 L88.1 153.1 L88.6 153.1 L89.2 152.6 L89.7 151.7 L90.2 150.6 L90.8 149.5 L91.3 148.1 L91.8 146.4 L92.4 144.5 L92.9 142.3 L93.4 139.5 L94.0 136.0 L94.5 132.2 L95.0 128.7 L95.6 125.4 L96.1 122.1 L96.6 118.9 L97.2 116.2 L97.7 113.9 L98.2 111.9 L98.7 110.1 L99.3 108.4 L99.8 106.5 L100.3 104.4 L100.9 102.5 L101.4 101.0 L101.9 99.9 L102.5 99.0 L103.0 98.9 L103.5 99.3 L104.1 99.9 L104.6 100.6 L105.1 101.6 L105.7 103.0 L106.2 104.6 L106.7 106.1 L107.3 107.4 L107.8 108.6 L108.3 109.9 L108.8 111.3 L109.4 112.8 L109.9 114.6 L110.4 116.6 L111.0 118.5 L111.5 120.1 L112.0 121.6 L112.6 123.1 L113.1 124.5 L113.6 125.9 L114.2 127.2 L114.7 128.5 L115.2 129.9 L115.8 131.1 L116.3 132.0 L116.8 132.7 L117.4 133.4 L117.9 134.0 L118.4 134.5 L118.9 134.7 L119.5 134.8 L120.0 134.8 L120.5 134.8 L121.1 134.9 L121.6 134.9 L122.1 134.8 L122.7 134.8 L123.2 134.7 L123.7 134.6 L124.3 134.5 L124.8 134.5 L125.3 134.7 L125.9 135.0 L126.4 135.4 L126.9 135.8 L127.5 136.3 L128.0 136.8 L128.5 137.4 L129.0 138.2 L129.6 139.0 L130.1 139.8 L130.6 140.7 L131.2 141.5 L131.7 142.4 L132.2 143.3 L132.8 144.4 L133.3 145.7 L133.8 147.1 L134.4 148.6 L134.9 150.2 L135.4 151.7 L136.0 153.2 L136.5 154.7 L137.0 156.2 L137.6 157.6 L138.1 159.0 L138.6 160.3 L139.1 161.5 L139.7 162.7 L140.2 163.8 L140.7 164.8 L141.3 165.9 L141.8 166.9 L142.3 167.9 L142.9 168.9 L143.4 169.9 L143.9 171.0 L144.5 172.0 L145.0 173.0 L145.5 173.9 L146.1 174.9 L146.6 175.8 L147.1 176.7 L147.7 177.5 L148.2 178.4 L148.7 179.2 L149.2 180.0 L149.8 180.7 L150.3 181.4 L150.8 182.0 L151.4 182.6 L151.9 183.2 L152.4 183.7 L153.0 184.2 L153.5 184.7 L154.0 185.2 L154.6 185.7 L155.1 186.2 L155.6 186.6 L156.2 187.0 L156.7 187.4 L157.2 187.8 L157.8 188.3 L158.3 188.7 L158.8 189.1 L159.4 189.6 L159.9 190.1 L160.4 190.6 L160.9 191.1 L161.5 191.6 L162.0 192.1 L162.5 192.7 L163.1 193.2 L163.6 193.7 L164.1 194.3 L164.7 194.8 L165.2 195.3 L165.7 195.8 L166.3 196.3 L166.8 196.8 L167.3 197.3 L167.9 197.8 L168.4 198.3 L168.9 198.8 L169.5 199.2 L170.0 199.7 L170.5 200.2 L171.0 200.6 L171.6 201.1 L172.1 201.5 L172.6 202.0 L173.2 202.4 L173.7 202.8 L174.2 203.2 L174.8 203.6 L175.3 204.0 L175.8 204.3 L176.4 204.7 L176.9 205.0 L177.4 205.4 L178.0 205.7 L178.5 206.1 L179.0 206.4 L179.6 206.7 L180.1 207.0 L180.6 207.3 L181.1 207.6 L181.7 207.9 L182.2 208.2 L182.7 208.5 L183.3 208.7 L183.8 209.0 L184.3 209.3 L184.9 209.5 L185.4 209.8 L185.9 210.0 L186.5 210.2 L187.0 210.4 L187.5 210.7 L188.1 210.8 L188.6 211.0 L189.1 211.2 L189.7 211.4 L190.2 211.5 L190.7 211.7 L191.2 211.8 L191.8 212.0 L192.3 212.1 L192.8 212.3 L193.4 212.4 L193.9 212.5 L194.4 212.7 L195.0 212.8 L195.5 212.9 L196.0 213.0 L196.6 213.2 L197.1 213.3 L197.6 213.4 L198.2 213.5 L198.7 213.6 L199.2 213.7 L199.8 213.8 L200.3 213.9 L200.8 214.0 L201.3 214.1 L201.9 214.2 L202.4 214.3 L202.9 214.5 L203.5 214.6 L204.0 214.7 L204.5 214.8 L205.1 214.9 L205.6 215.0 L206.1 215.1 L206.7 215.2 L207.2 215.3 L207.7 215.4 L208.3 215.5 L208.8 215.6 L209.3 215.7 L209.9 215.7 L210.4 215.8 L210.9 215.9 L211.4 216.0 L212.0 216.1 L212.5 216.2 L213.0 216.3 L213.6 216.4 L214.1 216.4 L214.6 216.5 L215.2 216.6 L215.7 216.7 L216.2 216.7 L216.8 216.8 L217.3 216.9 L217.8 216.9 L218.4 217.0 L218.9 217.1 L219.4 217.1 L220.0 217.2 L220.5 217.2 L221.0 217.3 L221.6 217.3 L222.1 217.4 L222.6 217.4 L223.1 217.5 L223.7 217.5 L224.2 217.6 L224.7 217.6 L225.3 217.7 L225.8 217.7 L226.3 217.7 L226.9 217.8 L227.4 217.8 L227.9 217.8 L228.5 217.9 L229.0 217.9 L229.5 218.0 L230.1 218.0 L230.6 218.0 L231.1 218.1 L231.7 218.1 L232.2 218.1 L232.7 218.2 L233.2 218.2 L233.8 218.2 L234.3 218.3 L234.8 218.3 L235.4 218.3 L235.9 218.4 L236.4 218.4 L237.0 218.4 L237.5 218.5 L238.0 218.5 L238.6 218.5 L239.1 218.5 L239.6 218.6 L240.2 218.6 L240.7 218.6 L241.2 218.7 L241.8 218.7 L242.3 218.7 L242.8 218.7 L243.3 218.8 L243.9 218.8 L244.4 218.8 L244.9 218.9 L245.5 218.9 L246.0 218.9 L246.5 218.9 L247.1 218.9 L247.6 219.0 L248.1 219.0 L248.7 219.0 L249.2 219.0 L249.7 219.0 L250.3 219.1 L250.8 219.1 L251.3 219.1 L251.9 219.1 L252.4 219.1 L252.9 219.1 L253.4 219.1 L254.0 219.2 L254.5 219.2 L255.0 219.2 L255.6 219.2 L256.1 219.2 L256.6 219.2 L257.2 219.2 L257.7 219.2 L258.2 219.2 L258.8 219.3 L259.3 219.3 L259.8 219.3 L260.4 219.3 L260.9 219.3 L261.4 219.3 L262.0 219.3 L262.5 219.3 L263.0 219.4 L263.5 219.4 L264.1 219.4 L264.6 219.4 L265.1 219.4 L265.7 219.4 L266.2 219.4 L266.7 219.4 L267.3 219.5 L267.8 219.5 L268.3 219.5 L268.9 219.5 L269.4 219.5 L269.9 219.5 L270.5 219.5 L271.0 219.6 L271.5 219.6 L272.1 219.6 L272.6 219.6 L273.1 219.6 L273.6 219.6 L274.2 219.6 L274.7 219.7 L275.2 219.7 L275.8 219.7 L276.3 219.7 L276.8 219.7 L277.4 219.7 L277.9 219.8 L278.4 219.8 L279.0 219.8 L279.5 219.8 L280.0 219.8 L280.6 219.8 L281.1 219.8 L281.6 219.9 L282.2 219.9 L282.7 219.9 L283.2 219.9 L283.8 219.9 L284.3 219.9 L284.8 219.9 L285.3 219.9 L285.9 220.0 L286.4 220.0 L286.9 220.0 L287.5 220.0 L288.0 220.0 L288.5 220.0 L289.1 220.0 L289.6 220.0 L290.1 220.0 L290.7 220.0 L291.2 220.0 L291.7 220.0 L292.3 220.0 L292.8 220.0 L293.3 220.0 L293.9 220.0 L294.4 220.0 L294.9 220.0 L295.4 220.0 L296.0 220.0 L296.5 220.0 L297.0 220.0 L297.6 220.0 L298.1 220.0 L298.6 220.0 L299.2 220.0 L299.7 220.0 L300.2 220.0 L300.8 220.0 L301.3 220.0 L301.8 220.0 L302.4 220.0 L302.9 220.0 L303.4 220.0 L304.0 220.0 L304.5 220.0 L305.0 220.0 L305.5 220.0 L306.1 220.0 L306.6 220.0 L307.1 220.0 L307.7 220.0 L308.2 220.0 L308.7 220.0 L309.3 220.0 L309.8 220.0 L310.3 220.0 L310.9 220.0 L311.4 220.0 L311.9 220.0 L312.5 220.0 L313.0 220.0 L313.5 220.0 L314.1 220.0 L314.6 220.0 L315.1 220.0 L315.6 220.0 L316.2 220.0" stroke="#000080"/>
<path d="M61.0 220.6 L61.5 220.4 L62.1 220.1 L62.6 219.5 L63.1 218.8 L63.7 218.0 L64.2 217.2 L64.7 216.1 L65.3 214.6 L65.8 212.8 L66.3 210.7 L66.8 208.6 L67.4 206.4 L67.9 204.0 L68.4 201.3 L69.0 198.5 L69.5 195.5 L70.0 192.3 L70.6 188.8 L71.1 185.2 L71.6 181.7 L72.2 178.3 L72.7 175.2 L73.2 172.1 L73.8 169.1 L74.3 166.1 L74.8 163.0 L75.4 159.9 L75.9 156.5 L76.4 152.9 L76.9 149.6 L77.5 147.0 L78.0 144.7 L78.5 142.7 L79.1 141.2 L79.6 139.8 L80.1 138.6 L80.7 137.9 L81.2 137.5 L81.7 137.2 L82.3 137.1 L82.8 137.2 L83.3 137.6 L83.9 138.2 L84.4 138.7 L84.9 139.3 L85.5 140.0 L86.0 140.7 L86.5 141.2 L87.0 141.7 L87.6 142.0 L88.1 142.3 L88.6 142.3 L89.2 141.7 L89.7 140.8 L90.2 139.7 L90.8 138.5 L91.3 137.0 L91.8 135.2 L92.4 133.1 L92.9 130.8 L93.4 127.8 L94.0 124.1 L94.5 120.1 L95.0 116.4 L95.6 112.8 L96.1 109.3 L96.6 105.9 L97.2 103.0 L97.7 100.6 L98.2 98.5 L98.7 96.6 L99.3 94.7 L99.8 92.7 L100.3 90.6 L100.9 88.5 L101.4 86.9 L101.9 85.7 L102.5 84.8 L103.0 84.7 L103.5 85.0 L104.1 85.7 L104.6 86.5 L105.1 87.6 L105.7 89.1 L106.2 90.7 L106.7 92.3 L107.3 93.7 L107.8 95.1 L108.3 96.4 L108.8 97.9 L109.4 99.5 L109.9 101.4 L110.4 103.6 L111.0 105.6 L111.5 107.3 L112.0 109.0 L112.6 110.5 L113.1 112.0 L113.6 113.5 L114.2 114.9 L114.7 116.3 L115.2 117.7 L115.8 119.0 L116.3 120.0 L116.8 120.8 L117.4 121.6 L117.9 122.2 L118.4 122.7 L118.9 122.9 L119.5 123.0 L120.0 123.0 L120.5 123.1 L121.1 123.1 L121.6 123.1 L122.1 123.1 L122.7 123.0 L123.2 122.9 L123.7 122.8 L124.3 122.7 L124.8 122.7 L125.3 122.9 L125.9 123.2 L126.4 123.7 L126.9 124.2 L127.5 124.8 L128.0 125.3 L128.5 126.0 L129.0 126.9 L129.6 127.8 L130.1 128.8 L130.6 129.7 L131.2 130.7 L131.7 131.7 L132.2 132.8 L132.8 134.0 L133.3 135.4 L133.8 137.0 L134.4 138.8 L134.9 140.6 L135.4 142.3 L136.0 143.9 L136.5 145.6 L137.0 147.3 L137.6 149.0 L138.1 150.6 L138.6 152.1 L139.1 153.4 L139.7 154.7 L140.2 156.0 L140.7 157.2 L141.3 158.4 L141.8 159.5 L142.3 160.7 L142.9 161.8 L143.4 163.0 L143.9 164.2 L144.5 165.3 L145.0 166.4 L145.5 167.5 L146.1 168.6 L146.6 169.6 L147.1 170.6 L147.7 171.6 L148.2 172.6 L148.7 173.5 L149.2 174.4 L149.8 175.3 L150.3 176.0 L150.8 176.7 L151.4 177.4 L151.9 178.1 L152.4 178.7 L153.0 179.3 L153.5 179.8 L154.0 180.4 L154.6 180.9 L155.1 181.4 L155.6 181.9 L156.2 182.4 L156.7 182.9 L157.2 183.4 L157.8 183.8 L158.3 184.3 L158.8 184.8 L159.4 185.4 L159.9 185.9 L160.4 186.5 L160.9 187.1 L161.5 187.7 L162.0 188.2 L162.5 188.8 L163.1 189.5 L163.6 190.1 L164.1 190.7 L164.7 191.3 L165.2 191.9 L165.7 192.4 L166.3 193.0 L166.8 193.6 L167.3 194.1 L167.9 194.7 L168.4 195.2 L168.9 195.8 L169.5 196.3 L170.0 196.8 L170.5 197.4 L171.0 197.9 L171.6 198.4 L172.1 198.9 L172.6 199.4 L173.2 199.9 L173.7 200.4 L174.2 200.8 L174.8 201.2 L175.3 201.7 L175.8 202.1 L176.4 202.5 L176.9 202.9 L177.4 203.3 L178.0 203.7 L178.5 204.1 L179.0 204.5 L179.6 204.8 L180.1 205.2 L180.6 205.5 L181.1 205.9 L181.7 206.2 L182.2 206.5 L182.7 206.8 L183.3 207.1 L183.8 207.4 L184.3 207.7 L184.9 208.0 L185.4 208.3 L185.9 208.6 L186.5 208.8 L187.0 209.1 L187.5 209.3 L188.1 209.5 L188.6 209.7 L189.1 209.9 L189.7 210.1 L190.2 210.3 L190.7 210.5 L191.2 210.7 L191.8 210.8 L192.3 211.0 L192.8 211.1 L193.4 211.3 L193.9 211.5 L194.4 211.6 L195.0 211.7 L195.5 211.9 L196.0 212.0 L196.6 212.2 L197.1 212.3 L197.6 212.4 L198.2 212.5 L198.7 212.7 L199.2 212.8 L199.8 212.9 L200.3 213.0 L200.8 213.2 L201.3 213.3 L201.9 213.4 L202.4 213.5 L202.9 213.7 L203.5 213.8 L204.0 213.9 L204.5 214.0 L205.1 214.1 L205.6 214.2 L206.1 214.4 L206.7 214.5 L207.2 214.6 L207.7 214.7 L208.3 214.8 L208.8 214.9 L209.3 215.0 L209.9 215.1 L210.4 215.2 L210.9 215.3 L211.4 215.4 L212.0 215.5 L212.5 215.6 L213.0 215.7 L213.6 215.8 L214.1 215.9 L214.6 216.0 L215.2 216.1 L215.7 216.2 L216.2 216.3 L216.8 216.4 L217.3 216.4 L217.8 216.5 L218.4 216.6 L218.9 216.7 L219.4 216.7 L220.0 216.8 L220.5 216.9 L221.0 216.9 L221.6 217.0 L222.1 217.0 L222.6 217.1 L223.1 217.1 L223.7 217.2 L224.2 217.2 L224.7 217.3 L225.3 217.3 L225.8 217.4 L226.3 217.4 L226.9 217.5 L227.4 217.5 L227.9 217.6 L228.5 217.6 L229.0 217.7 L229.5 217.7 L230.1 217.7 L230.6 217.8 L231.1 217.8 L231.7 217.9 L232.2 217.9 L232.7 217.9 L233.2 218.0 L233.8 218.0 L234.3 218.1 L234.8 218.1 L235.4 218.1 L235.9 218.2 L236.4 218.2 L237.0 218.2 L237.5 218.3 L238.0 218.3 L238.6 218.3 L239.1 218.4 L239.6 218.4 L240.2 218.4 L240.7 218.5 L241.2 218.5 L241.8 218.5 L242.3 218.6 L242.8 218.6 L243.3 218.6 L243.9 218.7 L244.4 218.7 L244.9 218.7 L245.5 218.7 L246.0 218.8 L246.5 218.8 L247.1 218.8 L247.6 218.9 L248.1 218.9 L248.7 218.9 L249.2 218.9 L249.7 218.9 L250.3 219.0 L250.8 219.0 L251.3 219.0 L251.9 219.0 L252.4 219.0 L252.9 219.0 L253.4 219.0 L254.0 219.1 L254.5 219.1 L255.0 219.1 L255.6 219.1 L256.1 219.1 L256.6 219.1 L257.2 219.1 L257.7 219.2 L258.2 219.2 L258.8 219.2 L259.3 219.2 L259.8 219.2 L260.4 219.2 L260.9 219.2 L261.4 219.2 L262.0 219.3 L262.5 219.3 L263.0 219.3 L263.5 219.3 L264.1 219.3 L264.6 219.3 L265.1 219.3 L265.7 219.4 L266.2 219.4 L266.7 219.4 L267.3 219.4 L267.8 219.4 L268.3 219.4 L268.9 219.4 L269.4 219.5 L269.9 219.5 L270.5 219.5 L271.0 219.5 L271.5 219.5 L272.1 219.5 L272.6 219.5 L273.1 219.6 L273.6 219.6 L274.2 219.6 L274.7 219.6 L275.2 219.6 L275.8 219.6 L276.3 219.7 L276.8 219.7 L277.4 219.7 L277.9 219.7 L278.4 219.7 L279.0 219.7 L279.5 219.8 L280.0 219.8 L280.6 219.8 L281.1 219.8 L281.6 219.8 L282.2 219.8 L282.7 219.8 L283.2 219.9 L283.8 219.9 L284.3 219.9 L284.8 219.9 L285.3 219.9 L285.9 219.9 L286.4 219.9 L286.9 219.9 L287.5 219.9 L288.0 220.0 L288.5 220.0 L289.1 220.0 L289.6 220.0 L290.1 220.0 L290.7 220.0 L291.2 220.0 L291.7 220.0 L292.3 220.0 L292.8 220.0 L293.3 220.0 L293.9 220.0 L294.4 220.0 L294.9 220.0 L295.4 220.0 L296.0 220.0 L296.5 220.0 L297.0 220.0 L297.6 220.0 L298.1 220.0 L298.6 220.0 L299.2 220.0 L299.7 220.0 L300.2 220.0 L300.8 220.0 L301.3 220.0 L301.8 220.0 L302.4 220.0 L302.9 220.0 L303.4 220.0 L304.0 220.0 L304.5 220.0 L305.0 220.0 L305.5 220.0 L306.1 220.0 L306.6 220.0 L307.1 220.0 L307.7 220.0 L308.2 220.0 L308.7 220.0 L309.3 220.0 L309.8 220.0 L310.3 220.0 L310.9 220.0 L311.4 220.0 L311.9 220.0 L312.5 220.0 L313.0 220.0 L313.5 220.0 L314.1 220.0 L314.6 220.0 L315.1 220.0 L315.6 220.0 L316.2 220.0" stroke="#00ffff"/>
<path d="M61.0 220.6 L61.5 220.4 L62.1 219.9 L62.6 219.3 L63.1 218.4 L63.7 217.5 L64.2 216.4 L64.7 215.1 L65.3 213.2 L65.8 211.0 L66.3 208.5 L66.8 205.8 L67.4 203.0 L67.9 200.1 L68.4 196.9 L69.0 193.3 L69.5 189.7 L70.0 185.7 L70.6 181.4 L71.1 176.9 L71.6 172.6 L72.2 168.5 L72.7 164.6 L73.2 160.8 L73.8 157.1 L74.3 153.4 L74.8 149.6 L75.4 145.7 L75.9 141.6 L76.4 137.1 L76.9 133.0 L77.5 129.8 L78.0 127.0 L78.5 124.6 L79.1 122.6 L79.6 120.9 L80.1 119.5 L80.7 118.6 L81.2 118.1 L81.7 117.7 L82.3 117.6 L82.8 117.8 L83.3 118.3 L83.9 119.0 L84.4 119.7 L84.9 120.4 L85.5 121.3 L86.0 122.1 L86.5 122.7 L87.0 123.3 L87.6 123.7 L88.1 124.0 L88.6 124.0 L89.2 123.3 L89.7 122.2 L90.2 120.8 L90.8 119.4 L91.3 117.6 L91.8 115.4 L92.4 112.9 L92.9 110.1 L93.4 106.5 L94.0 101.9 L94.5 97.1 L95.0 92.6 L95.6 88.3 L96.1 84.0 L96.6 79.9 L97.2 76.4 L97.7 73.5 L98.2 70.9 L98.7 68.6 L99.3 66.3 L99.8 63.9 L100.3 61.3 L100.9 58.8 L101.4 56.9 L101.9 55.4 L102.5 54.3 L103.0 54.1 L103.5 54.6 L104.1 55.5 L104.6 56.6 L105.1 58.0 L105.7 60.0 L106.2 62.2 L106.7 64.3 L107.3 66.2 L107.8 67.9 L108.3 69.7 L108.8 71.6 L109.4 73.8 L109.9 76.3 L110.4 79.2 L111.0 81.8 L111.5 84.1 L112.0 86.3 L112.6 88.4 L113.1 90.4 L113.6 92.4 L114.2 94.2 L114.7 96.1 L115.2 98.0 L115.8 99.7 L116.3 101.0 L116.8 102.1 L117.4 103.1 L117.9 103.9 L118.4 104.5 L118.9 104.8 L119.5 104.9 L120.0 105.0 L120.5 105.0 L121.1 105.1 L121.6 105.1 L122.1 105.0 L122.7 104.9 L123.2 104.8 L123.7 104.7 L124.3 104.6 L124.8 104.6 L125.3 104.8 L125.9 105.2 L126.4 105.7 L126.9 106.3 L127.5 107.0 L128.0 107.7 L128.5 108.5 L129.0 109.5 L129.6 110.6 L130.1 111.8 L130.6 112.9 L131.2 114.0 L131.7 115.2 L132.2 116.5 L132.8 117.9 L133.3 119.6 L133.8 121.5 L134.4 123.6 L134.9 125.7 L135.4 127.8 L136.0 129.7 L136.5 131.8 L137.0 133.8 L137.6 135.7 L138.1 137.6 L138.6 139.4 L139.1 141.0 L139.7 142.5 L140.2 144.0 L140.7 145.5 L141.3 146.9 L141.8 148.2 L142.3 149.6 L142.9 151.0 L143.4 152.3 L143.9 153.7 L144.5 155.1 L145.0 156.4 L145.5 157.7 L146.1 159.0 L146.6 160.2 L147.1 161.4 L147.7 162.6 L148.2 163.7 L148.7 164.8 L149.2 165.9 L149.8 166.9 L150.3 167.8 L150.8 168.6 L151.4 169.4 L151.9 170.2 L152.4 170.9 L153.0 171.6 L153.5 172.3 L154.0 172.9 L154.6 173.6 L155.1 174.2 L155.6 174.8 L156.2 175.4 L156.7 175.9 L157.2 176.5 L157.8 177.0 L158.3 177.6 L158.8 178.2 L159.4 178.9 L159.9 179.5 L160.4 180.2 L160.9 180.9 L161.5 181.6 L162.0 182.3 L162.5 183.0 L163.1 183.7 L163.6 184.4 L164.1 185.1 L164.7 185.8 L165.2 186.5 L165.7 187.2 L166.3 187.9 L166.8 188.6 L167.3 189.2 L167.9 189.9 L168.4 190.5 L168.9 191.2 L169.5 191.8 L170.0 192.4 L170.5 193.1 L171.0 193.7 L171.6 194.3 L172.1 194.9 L172.6 195.5 L173.2 196.1 L173.7 196.6 L174.2 197.1 L174.8 197.7 L175.3 198.2 L175.8 198.7 L176.4 199.2 L176.9 199.7 L177.4 200.1 L178.0 200.6 L178.5 201.0 L179.0 201.5 L179.6 201.9 L180.1 202.3 L180.6 202.8 L181.1 203.1 L181.7 203.5 L182.2 203.9 L182.7 204.3 L183.3 204.6 L183.8 205.0 L184.3 205.4 L184.9 205.7 L185.4 206.0 L185.9 206.3 L186.5 206.7 L187.0 206.9 L187.5 207.2 L188.1 207.5 L188.6 207.7 L189.1 208.0 L189.7 208.2 L190.2 208.4 L190.7 208.6 L191.2 208.8 L191.8 209.0 L192.3 209.2 L192.8 209.4 L193.4 209.6 L193.9 209.8 L194.4 210.0 L195.0 210.1 L195.5 210.3 L196.0 210.5 L196.6 210.6 L197.1 210.8 L197.6 210.9 L198.2 211.1 L198.7 211.2 L199.2 211.4 L199.8 211.5 L200.3 211.7 L200.8 211.8 L201.3 212.0 L201.9 212.1 L202.4 212.3 L202.9 212.4 L203.5 212.6 L204.0 212.7 L204.5 212.8 L205.1 213.0 L205.6 213.1 L206.1 213.3 L206.7 213.4 L207.2 213.5 L207.7 213.7 L208.3 213.8 L208.8 213.9 L209.3 214.1 L209.9 214.2 L210.4 214.3 L210.9 214.4 L211.4 214.6 L212.0 214.7 L212.5 214.8 L213.0 214.9 L213.6 215.0 L214.1 215.2 L214.6 215.3 L215.2 215.4 L215.7 215.5 L216.2 215.6 L216.8 215.7 L217.3 215.8 L217.8 215.9 L218.4 215.9 L218.9 216.0 L219.4 216.1 L220.0 216.2 L220.5 216.3 L221.0 216.3 L221.6 216.4 L222.1 216.5 L222.6 216.5 L223.1 216.6 L223.7 216.7 L224.2 216.7 L224.7 216.8 L225.3 216.9 L225.8 216.9 L226.3 217.0 L226.9 217.0 L227.4 217.1 L227.9 217.1 L228.5 217.2 L229.0 217.2 L229.5 217.3 L230.1 217.3 L230.6 217.4 L231.1 217.4 L231.7 217.5 L232.2 217.5 L232.7 217.6 L233.2 217.6 L233.8 217.7 L234.3 217.7 L234.8 217.8 L235.4 217.8 L235.9 217.9 L236.4 217.9 L237.0 217.9 L237.5 218.0 L238.0 218.0 L238.6 218.1 L239.1 218.1 L239.6 218.1 L240.2 218.2 L240.7 218.2 L241.2 218.2 L241.8 218.3 L242.3 218.3 L242.8 218.4 L243.3 218.4 L243.9 218.4 L244.4 218.5 L244.9 218.5 L245.5 218.5 L246.0 218.6 L246.5 218.6 L247.1 218.6 L247.6 218.7 L248.1 218.7 L248.7 218.7 L249.2 218.8 L249.7 218.8 L250.3 218.8 L250.8 218.8 L251.3 218.8 L251.9 218.8 L252.4 218.9 L252.9 218.9 L253.4 218.9 L254.0 218.9 L254.5 218.9 L255.0 219.0 L255.6 219.0 L256.1 219.0 L256.6 219.0 L257.2 219.0 L257.7 219.0 L258.2 219.0 L258.8 219.1 L259.3 219.1 L259.8 219.1 L260.4 219.1 L260.9 219.1 L261.4 219.1 L262.0 219.1 L262.5 219.2 L263.0 219.2 L263.5 219.2 L264.1 219.2 L264.6 219.2 L265.1 219.2 L265.7 219.3 L266.2 219.3 L266.7 219.3 L267.3 219.3 L267.8 219.3 L268.3 219.3 L268.9 219.4 L269.4 219.4 L269.9 219.4 L270.5 219.4 L271.0 219.4 L271.5 219.4 L272.1 219.5 L272.6 219.5 L273.1 219.5 L273.6 219.5 L274.2 219.5 L274.7 219.5 L275.2 219.6 L275.8 219.6 L276.3 219.6 L276.8 219.6 L277.4 219.6 L277.9 219.6 L278.4 219.7 L279.0 219.7 L279.5 219.7 L280.0 219.7 L280.6 219.7 L281.1 219.7 L281.6 219.7 L282.2 219.8 L282.7 219.8 L283.2 219.8 L283.8 219.8 L284.3 219.8 L284.8 219.8 L285.3 219.8 L285.9 219.9 L286.4 219.9 L286.9 219.9 L287.5 219.9 L288.0 219.9 L288.5 219.9 L289.1 219.9 L289.6 219.9 L290.1 219.9 L290.7 219.9 L291.2 219.9 L291.7 219.9 L292.3 219.9 L292.8 220.0 L293.3 220.0 L293.9 220.0 L294.4 220.0 L294.9 220.0 L295.4 220.0 L296.0 220.0 L296.5 220.0 L297.0 220.0 L297.6 220.0 L298.1 220.0 L298.6 220.0 L299.2 220.0 L299.7 220.0 L300.2 220.0 L300.8 220.0 L301.3 220.0 L301.8 220.0 L302.4 220.0 L302.9 220.0 L303.4 220.0 L304.0 220.0 L304.5 220.0 L305.0 220.0 L305.5 220.0 L306.1 220.0 L306.6 220.0 L307.1 220.0 L307.7 220.0 L308.2 220.0 L308.7 220.0 L309.3 220.0 L309.8 220.0 L310.3 220.0 L310.9 220.0 L311.4 220.0 L311.9 220.0 L312.5 220.0 L313.0 220.0 L313.5 220.0 L314.1 220.0 L314.6 220.0 L315.1 220.0 L315.6 220.0 L316.2 220.0" stroke="#ff0000"/>
<path d="M61.0 220.6 L61.5 220.4 L62.1 219.9 L62.6 219.3 L63.1 218.4 L63.7 217.4 L64.2 216.4 L64.7 215.0 L65.3 213.1 L65.8 210.8 L66.3 208.2 L66.8 205.5 L67.4 202.7 L67.9 199.8 L68.4 196.4 L69.0 192.9 L69.5 189.1 L70.0 185.1 L70.6 180.7 L71.1 176.2 L71.6 171.7 L72.2 167.6 L72.7 163.6 L73.2 159.8 L73.8 156.0 L74.3 152.2 L74.8 148.4 L75.4 144.4 L75.9 140.2 L76.4 135.6 L76.9 131.5 L77.5 128.2 L78.0 125.3 L78.5 122.9 L79.1 120.9 L79.6 119.1 L80.1 117.7 L80.7 116.8 L81.2 116.3 L81.7 115.9 L82.3 115.8 L82.8 116.0 L83.3 116.5 L83.9 117.2 L84.4 117.9 L84.9 118.6 L85.5 119.5 L86.0 120.3 L86.5 121.0 L87.0 121.5 L87.6 122.0 L88.1 122.3 L88.6 122.3 L89.2 121.6 L89.7 120.4 L90.2 119.0 L90.8 117.5 L91.3 115.6 L91.8 113.4 L92.4 110.8 L92.9 107.9 L93.4 104.2 L94.0 99.5 L94.5 94.5 L95.0 89.8 L95.6 85.4 L96.1 81.0 L96.6 76.8 L97.2 73.1 L97.7 70.1 L98.2 67.5 L98.7 65.1 L99.3 62.7 L99.8 60.2 L100.3 57.5 L100.9 54.9 L101.4 52.9 L101.9 51.4 L102.5 50.3 L103.0 50.1 L103.5 50.6 L104.1 51.6 L104.6 52.7 L105.1 54.1 L105.7 56.2 L106.2 58.5 L106.7 60.7 L107.3 62.6 L107.8 64.5 L108.3 66.3 L108.8 68.3 L109.4 70.5 L109.9 73.2 L110.4 76.1 L111.0 78.9 L111.5 81.3 L112.0 83.6 L112.6 85.7 L113.1 87.8 L113.6 89.8 L114.2 91.8 L114.7 93.7 L115.2 95.7 L115.8 97.5 L116.3 98.8 L116.8 99.9 L117.4 100.9 L117.9 101.8 L118.4 102.5 L118.9 102.8 L119.5 102.9 L120.0 102.9 L120.5 103.0 L121.1 103.0 L121.6 103.0 L122.1 103.0 L122.7 102.9 L123.2 102.7 L123.7 102.6 L124.3 102.5 L124.8 102.5 L125.3 102.7 L125.9 103.1 L126.4 103.7 L126.9 104.3 L127.5 105.0 L128.0 105.7 L128.5 106.5 L129.0 107.5 L129.6 108.6 L130.1 109.8 L130.6 111.0 L131.2 112.1 L131.7 113.3 L132.2 114.6 L132.8 116.1 L133.3 117.8 L133.8 119.8 L134.4 121.9 L134.9 124.0 L135.4 126.1 L136.0 128.1 L136.5 130.2 L137.0 132.2 L137.6 134.2 L138.1 136.1 L138.6 137.9 L139.1 139.6 L139.7 141.1 L140.2 142.7 L140.7 144.1 L141.3 145.5 L141.8 146.9 L142.3 148.3 L142.9 149.7 L143.4 151.1 L143.9 152.5 L144.5 153.9 L145.0 155.2 L145.5 156.6 L146.1 157.9 L146.6 159.1 L147.1 160.3 L147.7 161.5 L148.2 162.7 L148.7 163.8 L149.2 164.9 L149.8 165.9 L150.3 166.8 L150.8 167.7 L151.4 168.5 L151.9 169.3 L152.4 170.0 L153.0 170.7 L153.5 171.4 L154.0 172.1 L154.6 172.7 L155.1 173.4 L155.6 174.0 L156.2 174.6 L156.7 175.1 L157.2 175.7 L157.8 176.3 L158.3 176.8 L158.8 177.5 L159.4 178.1 L159.9 178.8 L160.4 179.5 L160.9 180.2 L161.5 180.9 L162.0 181.6 L162.5 182.3 L163.1 183.0 L163.6 183.8 L164.1 184.5 L164.7 185.2 L165.2 185.9 L165.7 186.6 L166.3 187.3 L166.8 188.0 L167.3 188.7 L167.9 189.3 L168.4 190.0 L168.9 190.6 L169.5 191.3 L170.0 191.9 L170.5 192.6 L171.0 193.2 L171.6 193.8 L172.1 194.4 L172.6 195.0 L173.2 195.6 L173.7 196.2 L174.2 196.7 L174.8 197.3 L175.3 197.8 L175.8 198.3 L176.4 198.8 L176.9 199.3 L177.4 199.8 L178.0 200.2 L178.5 200.7 L179.0 201.1 L179.6 201.6 L180.1 202.0 L180.6 202.4 L181.1 202.8 L181.7 203.2 L182.2 203.6 L182.7 204.0 L183.3 204.4 L183.8 204.7 L184.3 205.1 L184.9 205.4 L185.4 205.8 L185.9 206.1 L186.5 206.4 L187.0 206.7 L187.5 207.0 L188.1 207.3 L188.6 207.5 L189.1 207.7 L189.7 208.0 L190.2 208.2 L190.7 208.4 L191.2 208.6 L191.8 208.8 L192.3 209.0 L192.8 209.2 L193.4 209.4 L193.9 209.6 L194.4 209.8 L195.0 210.0 L195.5 210.1 L196.0 210.3 L196.6 210.5 L197.1 210.6 L197.6 210.8 L198.2 210.9 L198.7 211.1 L199.2 211.2 L199.8 211.4 L200.3 211.5 L200.8 211.7 L201.3 211.8 L201.9 212.0 L202.4 212.1 L202.9 212.3 L203.5 212.4 L204.0 212.6 L204.5 212.7 L205.1 212.9 L205.6 213.0 L206.1 213.1 L206.7 213.3 L207.2 213.4 L207.7 213.6 L208.3 213.7 L208.8 213.8 L209.3 214.0 L209.9 214.1 L210.4 214.2 L210.9 214.3 L211.4 214.5 L212.0 214.6 L212.5 214.7 L213.0 214.8 L213.6 214.9 L214.1 215.1 L214.6 215.2 L215.2 215.3 L215.7 215.4 L216.2 215.5 L216.8 215.6 L217.3 215.7 L217.8 215.8 L218.4 215.9 L218.9 216.0 L219.4 216.0 L220.0 216.1 L220.5 216.2 L221.0 216.3 L221.6 216.3 L222.1 216.4 L222.6 216.5 L223.1 216.6 L223.7 216.6 L224.2 216.7 L224.7 216.7 L225.3 216.8 L225.8 216.9 L226.3 216.9 L226.9 217.0 L227.4 217.0 L227.9 217.1 L228.5 217.1 L229.0 217.2 L229.5 217.2 L230.1 217.3 L230.6 217.3 L231.1 217.4 L231.7 217.4 L232.2 217.5 L232.7 217.5 L233.2 217.6 L233.8 217.6 L234.3 217.7 L234.8 217.7 L235.4 217.8 L235.9 217.8 L236.4 217.9 L237.0 217.9 L237.5 217.9 L238.0 218.0 L238.6 218.0 L239.1 218.1 L239.6 218.1 L240.2 218.1 L240.7 218.2 L241.2 218.2 L241.8 218.3 L242.3 218.3 L242.8 218.3 L243.3 218.4 L243.9 218.4 L244.4 218.5 L244.9 218.5 L245.5 218.5 L246.0 218.6 L246.5 218.6 L247.1 218.6 L247.6 218.7 L248.1 218.7 L248.7 218.7 L249.2 218.7 L249.7 218.8 L250.3 218.8 L250.8 218.8 L251.3 218.8 L251.9 218.8 L252.4 218.9 L252.9 218.9 L253.4 218.9 L254.0 218.9 L254.5 218.9 L255.0 218.9 L255.6 219.0 L256.1 219.0 L256.6 219.0 L257.2 219.0 L257.7 219.0 L258.2 219.0 L258.8 219.0 L259.3 219.1 L259.8 219.1 L260.4 219.1 L260.9 219.1 L261.4 219.1 L262.0 219.1 L262.5 219.2 L263.0 219.2 L263.5 219.2 L264.1 219.2 L264.6 219.2 L265.1 219.2 L265.7 219.2 L266.2 219.3 L266.7 219.3 L267.3 219.3 L267.8 219.3 L268.3 219.3 L268.9 219.3 L269.4 219.4 L269.9 219.4 L270.5 219.4 L271.0 219.4 L271.5 219.4 L272.1 219.4 L272.6 219.5 L273.1 219.5 L273.6 219.5 L274.2 219.5 L274.7 219.5 L275.2 219.5 L275.8 219.6 L276.3 219.6 L276.8 219.6 L277.4 219.6 L277.9 219.6 L278.4 219.6 L279.0 219.7 L279.5 219.7 L280.0 219.7 L280.6 219.7 L281.1 219.7 L281.6 219.7 L282.2 219.8 L282.7 219.8 L283.2 219.8 L283.8 219.8 L284.3 219.8 L284.8 219.8 L285.3 219.8 L285.9 219.8 L286.4 219.9 L286.9 219.9 L287.5 219.9 L288.0 219.9 L288.5 219.9 L289.1 219.9 L289.6 219.9 L290.1 219.9 L290.7 219.9 L291.2 219.9 L291.7 219.9 L292.3 219.9 L292.8 219.9 L293.3 219.9 L293.9 220.0 L294.4 220.0 L294.9 220.0 L295.4 220.0 L296.0 220.0 L296.5 220.0 L297.0 220.0 L297.6 220.0 L298.1 220.0 L298.6 220.0 L299.2 220.0 L299.7 220.0 L300.2 220.0 L300.8 220.0 L301.3 220.0 L301.8 220.0 L302.4 220.0 L302.9 220.0 L303.4 220.0 L304.0 220.0 L304.5 220.0 L305.0 220.0 L305.5 220.0 L306.1 220.0 L306.6 220.0 L307.1 220.0 L307.7 220.0 L308.2 220.0 L308.7 220.0 L309.3 220.0 L309.8 220.0 L310.3 220.0 L310.9 220.0 L311.4 220.0 L311.9 220.0 L312.5 220.0 L313.0 220.0 L313.5 220.0 L314.1 220.0 L314.6 220.0 L315.1 220.0 L315.6 220.0 L316.2 220.0" stroke="#0000ff"/>
<path d="M61.0 220.6 L61.5 220.4 L62.1 219.9 L62.6 219.2 L63.1 218.3 L63.7 217.3 L64.2 216.2 L64.7 214.8 L65.3 212.9 L65.8 210.5 L66.3 207.9 L66.8 205.1 L67.4 202.2 L67.9 199.2 L68.4 195.7 L69.0 192.1 L69.5 188.2 L70.0 184.0 L70.6 179.5 L71.1 174.9 L71.6 170.3 L72.2 166.0 L72.7 162.0 L73.2 158.0 L73.8 154.1 L74.3 150.2 L74.8 146.3 L75.4 142.2 L75.9 137.9 L76.4 133.1 L76.9 128.9 L77.5 125.5 L78.0 122.5 L78.5 120.0 L79.1 118.0 L79.6 116.2 L80.1 114.7 L80.7 113.8 L81.2 113.3 L81.7 112.9 L82.3 112.7 L82.8 112.9 L83.3 113.5 L83.9 114.2 L84.4 114.9 L84.9 115.7 L85.5 116.6 L86.0 117.4 L86.5 118.1 L87.0 118.7 L87.6 119.1 L88.1 119.5 L88.6 119.4 L89.2 118.8 L89.7 117.6 L90.2 116.2 L90.8 114.7 L91.3 112.8 L91.8 110.5 L92.4 107.9 L92.9 105.0 L93.4 101.3 L94.0 96.6 L94.5 91.6 L95.0 86.9 L95.6 82.5 L96.1 78.0 L96.6 73.8 L97.2 70.1 L97.7 67.1 L98.2 64.5 L98.7 62.1 L99.3 59.7 L99.8 57.2 L100.3 54.5 L100.9 51.9 L101.4 49.9 L101.9 48.4 L102.5 47.2 L103.0 47.1 L103.5 47.6 L104.1 48.6 L104.6 49.7 L105.1 51.3 L105.7 53.4 L106.2 55.7 L106.7 58.0 L107.3 60.1 L107.8 62.0 L108.3 63.9 L108.8 66.0 L109.4 68.3 L109.9 71.0 L110.4 74.1 L111.0 77.0 L111.5 79.5 L112.0 81.8 L112.6 84.1 L113.1 86.3 L113.6 88.4 L114.2 90.4 L114.7 92.4 L115.2 94.4 L115.8 96.3 L116.3 97.7 L116.8 98.8 L117.4 99.9 L117.9 100.8 L118.4 101.5 L118.9 101.8 L119.5 101.9 L120.0 102.0 L120.5 102.0 L121.1 102.1 L121.6 102.1 L122.1 102.0 L122.7 101.9 L123.2 101.8 L123.7 101.6 L124.3 101.5 L124.8 101.5 L125.3 101.8 L125.9 102.2 L126.4 102.7 L126.9 103.3 L127.5 104.0 L128.0 104.7 L128.5 105.6 L129.0 106.6 L129.6 107.7 L130.1 108.9 L130.6 110.1 L131.2 111.3 L131.7 112.5 L132.2 113.8 L132.8 115.2 L133.3 116.9 L133.8 118.9 L134.4 121.1 L134.9 123.2 L135.4 125.3 L136.0 127.4 L136.5 129.4 L137.0 131.5 L137.6 133.5 L138.1 135.4 L138.6 137.2 L139.1 138.9 L139.7 140.5 L140.2 142.0 L140.7 143.5 L141.3 144.9 L141.8 146.3 L142.3 147.7 L142.9 149.1 L143.4 150.5 L143.9 151.9 L144.5 153.3 L145.0 154.7 L145.5 156.0 L146.1 157.4 L146.6 158.6 L147.1 159.8 L147.7 161.0 L148.2 162.2 L148.7 163.3 L149.2 164.4 L149.8 165.5 L150.3 166.4 L150.8 167.3 L151.4 168.1 L151.9 168.9 L152.4 169.6 L153.0 170.3 L153.5 171.0 L154.0 171.7 L154.6 172.3 L155.1 173.0 L155.6 173.6 L156.2 174.2 L156.7 174.7 L157.2 175.3 L157.8 175.9 L158.3 176.5 L158.8 177.1 L159.4 177.8 L159.9 178.4 L160.4 179.1 L160.9 179.8 L161.5 180.5 L162.0 181.3 L162.5 182.0 L163.1 182.7 L163.6 183.5 L164.1 184.2 L164.7 184.9 L165.2 185.6 L165.7 186.4 L166.3 187.1 L166.8 187.7 L167.3 188.4 L167.9 189.1 L168.4 189.7 L168.9 190.4 L169.5 191.1 L170.0 191.7 L170.5 192.3 L171.0 193.0 L171.6 193.6 L172.1 194.2 L172.6 194.8 L173.2 195.4 L173.7 196.0 L174.2 196.5 L174.8 197.1 L175.3 197.6 L175.8 198.1 L176.4 198.6 L176.9 199.1 L177.4 199.6 L178.0 200.1 L178.5 200.5 L179.0 201.0 L179.6 201.4 L180.1 201.9 L180.6 202.3 L181.1 202.7 L181.7 203.1 L182.2 203.5 L182.7 203.9 L183.3 204.2 L183.8 204.6 L184.3 205.0 L184.9 205.3 L185.4 205.6 L185.9 206.0 L186.5 206.3 L187.0 206.6 L187.5 206.9 L188.1 207.2 L188.6 207.4 L189.1 207.6 L189.7 207.9 L190.2 208.1 L190.7 208.3 L191.2 208.5 L191.8 208.7 L192.3 208.9 L192.8 209.1 L193.4 209.3 L193.9 209.5 L194.4 209.7 L195.0 209.9 L195.5 210.0 L196.0 210.2 L196.6 210.4 L197.1 210.5 L197.6 210.7 L198.2 210.9 L198.7 211.0 L199.2 211.2 L199.8 211.3 L200.3 211.5 L200.8 211.6 L201.3 211.8 L201.9 211.9 L202.4 212.1 L202.9 212.2 L203.5 212.4 L204.0 212.5 L204.5 212.7 L205.1 212.8 L205.6 212.9 L206.1 213.1 L206.7 213.2 L207.2 213.4 L207.7 213.5 L208.3 213.6 L208.8 213.8 L209.3 213.9 L209.9 214.0 L210.4 214.2 L210.9 214.3 L211.4 214.4 L212.0 214.5 L212.5 214.7 L213.0 214.8 L213.6 214.9 L214.1 215.0 L214.6 215.1 L215.2 215.2 L215.7 215.3 L216.2 215.5 L216.8 215.6 L217.3 215.7 L217.8 215.7 L218.4 215.8 L218.9 215.9 L219.4 216.0 L220.0 216.1 L220.5 216.2 L221.0 216.2 L221.6 216.3 L222.1 216.4 L222.6 216.5 L223.1 216.5 L223.7 216.6 L224.2 216.7 L224.7 216.7 L225.3 216.8 L225.8 216.8 L226.3 216.9 L226.9 217.0 L227.4 217.0 L227.9 217.1 L228.5 217.1 L229.0 217.2 L229.5 217.2 L230.1 217.3 L230.6 217.3 L231.1 217.4 L231.7 217.4 L232.2 217.5 L232.7 217.5 L233.2 217.6 L233.8 217.6 L234.3 217.7 L234.8 217.7 L235.4 217.8 L235.9 217.8 L236.4 217.8 L237.0 217.9 L237.5 217.9 L238.0 218.0 L238.6 218.0 L239.1 218.0 L239.6 218.1 L240.2 218.1 L240.7 218.2 L241.2 218.2 L241.8 218.2 L242.3 218.3 L242.8 218.3 L243.3 218.4 L243.9 218.4 L244.4 218.4 L244.9 218.5 L245.5 218.5 L246.0 218.6 L246.5 218.6 L247.1 218.6 L247.6 218.6 L248.1 218.7 L248.7 218.7 L249.2 218.7 L249.7 218.7 L250.3 218.8 L250.8 218.8 L251.3 218.8 L251.9 218.8 L252.4 218.8 L252.9 218.9 L253.4 218.9 L254.0 218.9 L254.5 218.9 L255.0 218.9 L255.6 218.9 L256.1 219.0 L256.6 219.0 L257.2 219.0 L257.7 219.0 L258.2 219.0 L258.8 219.0 L259.3 219.1 L259.8 219.1 L260.4 219.1 L260.9 219.1 L261.4 219.1 L262.0 219.1 L262.5 219.1 L263.0 219.2 L263.5 219.2 L264.1 219.2 L264.6 219.2 L265.1 219.2 L265.7 219.2 L266.2 219.3 L266.7 219.3 L267.3 219.3 L267.8 219.3 L268.3 219.3 L268.9 219.3 L269.4 219.4 L269.9 219.4 L270.5 219.4 L271.0 219.4 L271.5 219.4 L272.1 219.4 L272.6 219.5 L273.1 219.5 L273.6 219.5 L274.2 219.5 L274.7 219.5 L275.2 219.5 L275.8 219.6 L276.3 219.6 L276.8 219.6 L277.4 219.6 L277.9 219.6 L278.4 219.6 L279.0 219.7 L279.5 219.7 L280.0 219.7 L280.6 219.7 L281.1 219.7 L281.6 219.7 L282.2 219.7 L282.7 219.8 L283.2 219.8 L283.8 219.8 L284.3 219.8 L284.8 219.8 L285.3 219.8 L285.9 219.8 L286.4 219.9 L286.9 219.9 L287.5 219.9 L288.0 219.9 L288.5 219.9 L289.1 219.9 L289.6 219.9 L290.1 219.9 L290.7 219.9 L291.2 219.9 L291.7 219.9 L292.3 219.9 L292.8 219.9 L293.3 219.9 L293.9 219.9 L294.4 219.9 L294.9 219.9 L295.4 219.9 L296.0 219.9 L296.5 219.9 L297.0 219.9 L297.6 219.9 L298.1 219.9 L298.6 219.9 L299.2 219.9 L299.7 219.9 L300.2 219.9 L300.8 219.9 L301.3 219.9 L301.8 219.9 L302.4 219.9 L302.9 219.9 L303.4 219.9 L304.0 219.9 L304.5 219.9 L305.0 219.9 L305.5 219.9 L306.1 219.9 L306.6 219.9 L307.1 219.9 L307.7 219.9 L308.2 219.9 L308.7 219.9 L309.3 219.9 L309.8 219.9 L310.3 219.9 L310.9 219.9 L311.4 219.9 L311.9 219.9 L312.5 219.9 L313.0 219.9 L313.5 219.9 L314.1 219.9 L314.6 219.9 L315.1 219.9 L315.6 219.9 L316.2 219.9" stroke="#800080"/>
<path d="M61.0 220.6 L61.5 220.4 L62.1 219.9 L62.6 219.2 L63.1 218.3 L63.7 217.2 L64.2 216.1 L64.7 214.6 L65.3 212.6 L65.8 210.2 L66.3 207.4 L66.8 204.5 L67.4 201.6 L67.9 198.4 L68.4 194.9 L69.0 191.0 L69.5 187.0 L70.0 182.7 L70.6 178.1 L71.1 173.2 L71.6 168.5 L72.2 164.1 L72.7 159.8 L73.2 155.8 L73.8 151.7 L74.3 147.7 L74.8 143.6 L75.4 139.4 L75.9 134.9 L76.4 130.0 L76.9 125.6 L77.5 122.1 L78.0 119.0 L78.5 116.4 L79.1 114.3 L79.6 112.4 L80.1 110.9 L80.7 109.9 L81.2 109.4 L81.7 109.0 L82.3 108.8 L82.8 109.1 L83.3 109.6 L83.9 110.3 L84.4 111.1 L84.9 111.9 L85.5 112.8 L86.0 113.7 L86.5 114.4 L87.0 115.0 L87.6 115.5 L88.1 115.8 L88.6 115.8 L89.2 115.1 L89.7 113.8 L90.2 112.3 L90.8 110.7 L91.3 108.8 L91.8 106.4 L92.4 103.6 L92.9 100.6 L93.4 96.6 L94.0 91.7 L94.5 86.4 L95.0 81.4 L95.6 76.8 L96.1 72.1 L96.6 67.6 L97.2 63.7 L97.7 60.6 L98.2 57.8 L98.7 55.2 L99.3 52.7 L99.8 50.1 L100.3 47.2 L100.9 44.5 L101.4 42.4 L101.9 40.8 L102.5 39.6 L103.0 39.4 L103.5 40.0 L104.1 40.9 L104.6 42.1 L105.1 43.6 L105.7 45.8 L106.2 48.2 L106.7 50.5 L107.3 52.5 L107.8 54.5 L108.3 56.4 L108.8 58.5 L109.4 60.8 L109.9 63.6 L110.4 66.8 L111.0 69.7 L111.5 72.2 L112.0 74.6 L112.6 76.9 L113.1 79.0 L113.6 81.1 L114.2 83.2 L114.7 85.2 L115.2 87.3 L115.8 89.2 L116.3 90.6 L116.8 91.8 L117.4 92.8 L117.9 93.7 L118.4 94.4 L118.9 94.8 L119.5 94.9 L120.0 94.9 L120.5 95.0 L121.1 95.0 L121.6 95.0 L122.1 95.0 L122.7 94.9 L123.2 94.7 L123.7 94.6 L124.3 94.5 L124.8 94.5 L125.3 94.7 L125.9 95.1 L126.4 95.7 L126.9 96.4 L127.5 97.1 L128.0 97.9 L128.5 98.7 L129.0 99.8 L129.6 101.0 L130.1 102.3 L130.6 103.5 L131.2 104.8 L131.7 106.0 L132.2 107.4 L132.8 109.0 L133.3 110.8 L133.8 112.9 L134.4 115.2 L134.9 117.5 L135.4 119.7 L136.0 121.8 L136.5 124.0 L137.0 126.2 L137.6 128.4 L138.1 130.4 L138.6 132.3 L139.1 134.1 L139.7 135.7 L140.2 137.4 L140.7 138.9 L141.3 140.4 L141.8 141.9 L142.3 143.4 L142.9 144.9 L143.4 146.4 L143.9 147.9 L144.5 149.4 L145.0 150.8 L145.5 152.2 L146.1 153.6 L146.6 155.0 L147.1 156.2 L147.7 157.5 L148.2 158.8 L148.7 160.0 L149.2 161.1 L149.8 162.2 L150.3 163.2 L150.8 164.1 L151.4 165.0 L151.9 165.8 L152.4 166.6 L153.0 167.3 L153.5 168.1 L154.0 168.8 L154.6 169.5 L155.1 170.2 L155.6 170.8 L156.2 171.4 L156.7 172.0 L157.2 172.6 L157.8 173.2 L158.3 173.9 L158.8 174.5 L159.4 175.2 L159.9 175.9 L160.4 176.7 L160.9 177.4 L161.5 178.2 L162.0 178.9 L162.5 179.7 L163.1 180.5 L163.6 181.3 L164.1 182.0 L164.7 182.8 L165.2 183.6 L165.7 184.3 L166.3 185.1 L166.8 185.8 L167.3 186.5 L167.9 187.2 L168.4 187.9 L168.9 188.6 L169.5 189.3 L170.0 190.0 L170.5 190.7 L171.0 191.3 L171.6 192.0 L172.1 192.7 L172.6 193.3 L173.2 193.9 L173.7 194.5 L174.2 195.1 L174.8 195.7 L175.3 196.2 L175.8 196.8 L176.4 197.3 L176.9 197.8 L177.4 198.3 L178.0 198.9 L178.5 199.3 L179.0 199.8 L179.6 200.3 L180.1 200.8 L180.6 201.2 L181.1 201.6 L181.7 202.1 L182.2 202.5 L182.7 202.9 L183.3 203.3 L183.8 203.7 L184.3 204.0 L184.9 204.4 L185.4 204.8 L185.9 205.1 L186.5 205.4 L187.0 205.8 L187.5 206.1 L188.1 206.4 L188.6 206.6 L189.1 206.9 L189.7 207.1 L190.2 207.4 L190.7 207.6 L191.2 207.8 L191.8 208.0 L192.3 208.3 L192.8 208.5 L193.4 208.7 L193.9 208.9 L194.4 209.1 L195.0 209.2 L195.5 209.4 L196.0 209.6 L196.6 209.8 L197.1 210.0 L197.6 210.1 L198.2 210.3 L198.7 210.5 L199.2 210.6 L199.8 210.8 L200.3 210.9 L200.8 211.1 L201.3 211.3 L201.9 211.4 L202.4 211.6 L202.9 211.7 L203.5 211.9 L204.0 212.0 L204.5 212.2 L205.1 212.4 L205.6 212.5 L206.1 212.7 L206.7 212.8 L207.2 213.0 L207.7 213.1 L208.3 213.2 L208.8 213.4 L209.3 213.5 L209.9 213.7 L210.4 213.8 L210.9 214.0 L211.4 214.1 L212.0 214.2 L212.5 214.3 L213.0 214.5 L213.6 214.6 L214.1 214.7 L214.6 214.8 L215.2 215.0 L215.7 215.1 L216.2 215.2 L216.8 215.3 L217.3 215.4 L217.8 215.5 L218.4 215.6 L218.9 215.7 L219.4 215.8 L220.0 215.9 L220.5 215.9 L221.0 216.0 L221.6 216.1 L222.1 216.2 L222.6 216.2 L223.1 216.3 L223.7 216.4 L224.2 216.5 L224.7 216.5 L225.3 216.6 L225.8 216.7 L226.3 216.7 L226.9 216.8 L227.4 216.8 L227.9 216.9 L228.5 216.9 L229.0 217.0 L229.5 217.1 L230.1 217.1 L230.6 217.2 L231.1 217.2 L231.7 217.3 L232.2 217.3 L232.7 217.4 L233.2 217.4 L233.8 217.5 L234.3 217.5 L234.8 217.6 L235.4 217.6 L235.9 217.7 L236.4 217.7 L237.0 217.8 L237.5 217.8 L238.0 217.9 L238.6 217.9 L239.1 217.9 L239.6 218.0 L240.2 218.0 L240.7 218.1 L241.2 218.1 L241.8 218.2 L242.3 218.2 L242.8 218.2 L243.3 218.3 L243.9 218.3 L244.4 218.4 L244.9 218.4 L245.5 218.4 L246.0 218.5 L246.5 218.5 L247.1 218.5 L247.6 218.6 L248.1 218.6 L248.7 218.6 L249.2 218.7 L249.7 218.7 L250.3 218.7 L250.8 218.7 L251.3 218.7 L251.9 218.8 L252.4 218.8 L252.9 218.8 L253.4 218.8 L254.0 218.8 L254.5 218.9 L255.0 218.9 L255.6 218.9 L256.1 218.9 L256.6 218.9 L257.2 218.9 L257.7 219.0 L258.2 219.0 L258.8 219.0 L259.3 219.0 L259.8 219.0 L260.4 219.0 L260.9 219.1 L261.4 219.1 L262.0 219.1 L262.5 219.1 L263.0 219.1 L263.5 219.1 L264.1 219.2 L264.6 219.2 L265.1 219.2 L265.7 219.2 L266.2 219.2 L266.7 219.2 L267.3 219.3 L267.8 219.3 L268.3 219.3 L268.9 219.3 L269.4 219.3 L269.9 219.3 L270.5 219.4 L271.0 219.4 L271.5 219.4 L272.1 219.4 L272.6 219.4 L273.1 219.4 L273.6 219.5 L274.2 219.5 L274.7 219.5 L275.2 219.5 L275.8 219.5 L276.3 219.5 L276.8 219.6 L277.4 219.6 L277.9 219.6 L278.4 219.6 L279.0 219.6 L279.5 219.6 L280.0 219.7 L280.6 219.7 L281.1 219.7 L281.6 219.7 L282.2 219.7 L282.7 219.7 L283.2 219.8 L283.8 219.8 L284.3 219.8 L284.8 219.8 L285.3 219.8 L285.9 219.8 L286.4 219.8 L286.9 219.8 L287.5 219.9 L288.0 219.9 L288.5 219.9 L289.1 219.9 L289.6 219.9 L290.1 219.9 L290.7 219.9 L291.2 219.9 L291.7 219.9 L292.3 219.9 L292.8 219.9 L293.3 219.9 L293.9 219.9 L294.4 219.9 L294.9 219.9 L295.4 219.9 L296.0 219.9 L296.5 219.9 L297.0 219.9 L297.6 219.9 L298.1 219.9 L298.6 219.9 L299.2 219.9 L299.7 219.9 L300.2 219.9 L300.8 219.9 L301.3 219.9 L301.8 219.9 L302.4 219.9 L302.9 219.9 L303.4 219.9 L304.0 219.9 L304.5 219.9 L305.0 219.9 L305.5 219.9 L306.1 219.9 L306.6 219.9 L307.1 219.9 L307.7 219.9 L308.2 219.9 L308.7 219.9 L309.3 219.9 L309.8 219.9 L310.3 219.9 L310.9 219.9 L311.4 219.9 L311.9 219.9 L312.5 219.9 L313.0 219.9 L313.5 219.9 L314.1 219.9 L314.6 219.9 L315.1 219.9 L315.6 219.9 L316.2 219.9" stroke="#00ff00"/>
<path d="M61.0 220.6 L61.5 220.4 L62.1 219.9 L62.6 219.1 L63.1 218.2 L63.7 217.1 L64.2 216.0 L64.7 214.5 L65.3 212.4 L65.8 209.9 L66.3 207.1 L66.8 204.2 L67.4 201.1 L67.9 197.9 L68.4 194.3 L69.0 190.4 L69.5 186.3 L70.0 181.9 L70.6 177.1 L71.1 172.2 L71.6 167.3 L72.2 162.8 L72.7 158.5 L73.2 154.3 L73.8 150.1 L74.3 146.0 L74.8 141.8 L75.4 137.5 L75.9 132.9 L76.4 127.9 L76.9 123.4 L77.5 119.8 L78.0 116.7 L78.5 114.0 L79.1 111.9 L79.6 110.0 L80.1 108.4 L80.7 107.4 L81.2 106.9 L81.7 106.4 L82.3 106.3 L82.8 106.5 L83.3 107.1 L83.9 107.8 L84.4 108.6 L84.9 109.4 L85.5 110.3 L86.0 111.3 L86.5 112.0 L87.0 112.6 L87.6 113.1 L88.1 113.4 L88.6 113.4 L89.2 112.7 L89.7 111.6 L90.2 110.2 L90.8 108.7 L91.3 106.9 L91.8 104.7 L92.4 102.1 L92.9 99.3 L93.4 95.6 L94.0 91.0 L94.5 86.1 L95.0 81.5 L95.6 77.2 L96.1 72.8 L96.6 68.7 L97.2 65.1 L97.7 62.2 L98.2 59.6 L98.7 57.2 L99.3 54.9 L99.8 52.5 L100.3 49.8 L100.9 47.3 L101.4 45.3 L101.9 43.8 L102.5 42.7 L103.0 42.6 L103.5 43.2 L104.1 44.2 L104.6 45.4 L105.1 47.0 L105.7 49.3 L106.2 51.8 L106.7 54.3 L107.3 56.4 L107.8 58.5 L108.3 60.6 L108.8 62.8 L109.4 65.2 L109.9 68.2 L110.4 71.4 L111.0 74.5 L111.5 77.2 L112.0 79.7 L112.6 82.1 L113.1 84.4 L113.6 86.6 L114.2 88.8 L114.7 90.9 L115.2 93.1 L115.8 95.1 L116.3 96.6 L116.8 97.8 L117.4 98.9 L117.9 99.9 L118.4 100.6 L118.9 101.0 L119.5 101.1 L120.0 101.2 L120.5 101.2 L121.1 101.2 L121.6 101.3 L122.1 101.2 L122.7 101.1 L123.2 100.9 L123.7 100.8 L124.3 100.7 L124.8 100.7 L125.3 100.9 L125.9 101.3 L126.4 101.9 L126.9 102.5 L127.5 103.2 L128.0 103.9 L128.5 104.7 L129.0 105.8 L129.6 106.9 L130.1 108.1 L130.6 109.3 L131.2 110.5 L131.7 111.7 L132.2 113.0 L132.8 114.5 L133.3 116.2 L133.8 118.2 L134.4 120.4 L134.9 122.5 L135.4 124.7 L136.0 126.7 L136.5 128.8 L137.0 130.9 L137.6 132.9 L138.1 134.8 L138.6 136.6 L139.1 138.3 L139.7 139.9 L140.2 141.5 L140.7 142.9 L141.3 144.4 L141.8 145.8 L142.3 147.2 L142.9 148.6 L143.4 150.0 L143.9 151.5 L144.5 152.9 L145.0 154.2 L145.5 155.6 L146.1 156.9 L146.6 158.2 L147.1 159.4 L147.7 160.6 L148.2 161.8 L148.7 162.9 L149.2 164.0 L149.8 165.1 L150.3 166.0 L150.8 166.9 L151.4 167.7 L151.9 168.5 L152.4 169.2 L153.0 170.0 L153.5 170.7 L154.0 171.3 L154.6 172.0 L155.1 172.6 L155.6 173.3 L156.2 173.8 L156.7 174.4 L157.2 175.0 L157.8 175.6 L158.3 176.2 L158.8 176.8 L159.4 177.5 L159.9 178.1 L160.4 178.8 L160.9 179.5 L161.5 180.2 L162.0 181.0 L162.5 181.7 L163.1 182.4 L163.6 183.2 L164.1 183.9 L164.7 184.7 L165.2 185.4 L165.7 186.1 L166.3 186.8 L166.8 187.5 L167.3 188.2 L167.9 188.8 L168.4 189.5 L168.9 190.2 L169.5 190.8 L170.0 191.5 L170.5 192.1 L171.0 192.8 L171.6 193.4 L172.1 194.0 L172.6 194.6 L173.2 195.2 L173.7 195.8 L174.2 196.4 L174.8 196.9 L175.3 197.4 L175.8 197.9 L176.4 198.5 L176.9 199.0 L177.4 199.4 L178.0 199.9 L178.5 200.4 L179.0 200.8 L179.6 201.3 L180.1 201.7 L180.6 202.2 L181.1 202.6 L181.7 203.0 L182.2 203.4 L182.7 203.7 L183.3 204.1 L183.8 204.5 L184.3 204.8 L184.9 205.2 L185.4 205.5 L185.9 205.9 L186.5 206.2 L187.0 206.5 L187.5 206.8 L188.1 207.1 L188.6 207.3 L189.1 207.6 L189.7 207.8 L190.2 208.0 L190.7 208.2 L191.2 208.4 L191.8 208.7 L192.3 208.9 L192.8 209.1 L193.4 209.2 L193.9 209.4 L194.4 209.6 L195.0 209.8 L195.5 210.0 L196.0 210.1 L196.6 210.3 L197.1 210.5 L197.6 210.6 L198.2 210.8 L198.7 210.9 L199.2 211.1 L199.8 211.2 L200.3 211.4 L200.8 211.6 L201.3 211.7 L201.9 211.9 L202.4 212.0 L202.9 212.2 L203.5 212.3 L204.0 212.5 L204.5 212.6 L205.1 212.7 L205.6 212.9 L206.1 213.0 L206.7 213.2 L207.2 213.3 L207.7 213.5 L208.3 213.6 L208.8 213.7 L209.3 213.9 L209.9 214.0 L210.4 214.1 L210.9 214.3 L211.4 214.4 L212.0 214.5 L212.5 214.6 L213.0 214.8 L213.6 214.9 L214.1 215.0 L214.6 215.1 L215.2 215.2 L215.7 215.3 L216.2 215.4 L216.8 215.5 L217.3 215.6 L217.8 215.7 L218.4 215.8 L218.9 215.9 L219.4 216.0 L220.0 216.1 L220.5 216.1 L221.0 216.2 L221.6 216.3 L222.1 216.4 L222.6 216.4 L223.1 216.5 L223.7 216.6 L224.2 216.6 L224.7 216.7 L225.3 216.8 L225.8 216.8 L226.3 216.9 L226.9 216.9 L227.4 217.0 L227.9 217.0 L228.5 217.1 L229.0 217.1 L229.5 217.2 L230.1 217.3 L230.6 217.3 L231.1 217.4 L231.7 217.4 L232.2 217.5 L232.7 217.5 L233.2 217.6 L233.8 217.6 L234.3 217.6 L234.8 217.7 L235.4 217.7 L235.9 217.8 L236.4 217.8 L237.0 217.9 L237.5 217.9 L238.0 218.0 L238.6 218.0 L239.1 218.0 L239.6 218.1 L240.2 218.1 L240.7 218.2 L241.2 218.2 L241.8 218.2 L242.3 218.3 L242.8 218.3 L243.3 218.4 L243.9 218.4 L244.4 218.4 L244.9 218.5 L245.5 218.5 L246.0 218.5 L246.5 218.6 L247.1 218.6 L247.6 218.6 L248.1 218.7 L248.7 218.7 L249.2 218.7 L249.7 218.7 L250.3 218.8 L250.8 218.8 L251.3 218.8 L251.9 218.8 L252.4 218.8 L252.9 218.9 L253.4 218.9 L254.0 218.9 L254.5 218.9 L255.0 218.9 L255.6 218.9 L256.1 219.0 L256.6 219.0 L257.2 219.0 L257.7 219.0 L258.2 219.0 L258.8 219.0 L259.3 219.0 L259.8 219.1 L260.4 219.1 L260.9 219.1 L261.4 219.1 L262.0 219.1 L262.5 219.1 L263.0 219.2 L263.5 219.2 L264.1 219.2 L264.6 219.2 L265.1 219.2 L265.7 219.2 L266.2 219.3 L266.7 219.3 L267.3 219.3 L267.8 219.3 L268.3 219.3 L268.9 219.3 L269.4 219.3 L269.9 219.4 L270.5 219.4 L271.0 219.4 L271.5 219.4 L272.1 219.4 L272.6 219.4 L273.1 219.5 L273.6 219.5 L274.2 219.5 L274.7 219.5 L275.2 219.5 L275.8 219.6 L276.3 219.6 L276.8 219.6 L277.4 219.6 L277.9 219.6 L278.4 219.6 L279.0 219.7 L279.5 219.7 L280.0 219.7 L280.6 219.7 L281.1 219.7 L281.6 219.7 L282.2 219.7 L282.7 219.8 L283.2 219.8 L283.8 219.8 L284.3 219.8 L284.8 219.8 L285.3 219.8 L285.9 219.8 L286.4 219.8 L286.9 219.9 L287.5 219.9 L288.0 219.9 L288.5 219.9 L289.1 219.9 L289.6 219.9 L290.1 219.9 L290.7 219.9 L291.2 219.9 L291.7 219.9 L292.3 219.9 L292.8 219.9 L293.3 219.9 L293.9 219.9 L294.4 219.9 L294.9 219.9 L295.4 219.9 L296.0 219.9 L296.5 219.9 L297.0 219.9 L297.6 219.9 L298.1 219.9 L298.6 219.9 L299.2 219.9 L299.7 219.9 L300.2 219.9 L300.8 219.9 L301.3 219.9 L301.8 219.9 L302.4 219.9 L302.9 219.9 L303.4 219.9 L304.0 219.9 L304.5 219.9 L305.0 219.9 L305.5 219.9 L306.1 219.9 L306.6 219.9 L307.1 219.9 L307.7 219.9 L308.2 219.9 L308.7 219.9 L309.3 219.9 L309.8 219.9 L310.3 219.9 L310.9 219.9 L311.4 219.9 L311.9 219.9 L312.5 219.9 L313.0 219.9 L313.5 219.9 L314.1 219.9 L314.6 219.9 L315.1 219.9 L315.6 219.9 L316.2 219.9" stroke="#800000"/>
</g>
<g font-family="'Liberation Serif', serif" font-weight="bold" font-size="15.2" fill="#000" stroke="#000" stroke-width="0.25">
<text x="54.6" y="224.9" text-anchor="end">0</text>
<text x="54.6" y="200.5" text-anchor="end">20</text>
<text x="54.6" y="176.2" text-anchor="end">40</text>
<text x="54.6" y="151.8" text-anchor="end">60</text>
<text x="54.6" y="127.5" text-anchor="end">80</text>
<text x="54.6" y="103.2" text-anchor="end">100</text>
<text x="54.6" y="78.8" text-anchor="end">120</text>
<text x="54.6" y="54.5" text-anchor="end">140</text>
<text x="54.6" y="30.1" text-anchor="end">160</text>
<text x="66.5" y="238.0" text-anchor="middle">380</text>
<text x="104.6" y="238.0" text-anchor="middle">420</text>
<text x="149.2" y="236.0" text-anchor="middle">460</text>
<text x="187.5" y="236.0" text-anchor="middle">500</text>
<text x="233.3" y="236.1" text-anchor="middle">540</text>
<text x="276.7" y="236.1" text-anchor="middle">580</text>
<text x="318.9" y="236.1" text-anchor="middle">620</text>
</g>
<text font-family="'Liberation Serif', serif" font-weight="bold" stroke="#000" stroke-width="0.3" font-size="15" x="177.0" y="257.3" text-anchor="middle" textLength="113.2" lengthAdjust="spacing">Wavelength (nm)</text>
<text font-family="'Liberation Serif', serif" font-weight="bold" font-size="20" stroke="#000" stroke-width="0.3" transform="translate(18.9 204.8) rotate(-90) scale(1 0.9)">Fluorescence <tspan x="116.7">intensity</tspan></text>
<text font-family="'Liberation Serif', serif" font-weight="bold" font-size="19.5" stroke="#000" stroke-width="0.3" x="150.7" y="56.5">a</text>
<text font-family="'Liberation Serif', serif" font-weight="bold" font-size="15.3" stroke="#000" stroke-width="0.3" x="187.6" y="96.9" textLength="46.3" lengthAdjust="spacing">75 mM</text>
<text font-family="'Liberation Serif', serif" font-weight="bold" font-size="15.2" stroke="#000" stroke-width="0.3" x="207.2" y="116.5" textLength="57.4" lengthAdjust="spacing">Fructose</text>
<text font-family="'Liberation Serif', serif" font-weight="bold" font-size="16.4" stroke="#000" stroke-width="0.3" x="195.7" y="138.3">0</text>
<path d="M199.5 122.9 V106" stroke="#000" stroke-width="0.9" fill="none"/>
<path d="M199.5 103.3 L200.8 109.2 H198.2 Z" fill="#000"/>
<g stroke="#141414" stroke-width="1.1" fill="none">
<path d="M442.8 24.6 V233.1"/>
<path d="M440.5 232.6 H702.7"/>
<path d="M438.3 218.3 H442.8"/>
<path d="M440.5 204.5 H442.8"/>
<path d="M438.3 190.7 H442.8"/>
<path d="M440.5 176.9 H442.8"/>
<path d="M438.3 163.1 H442.8"/>
<path d="M440.5 149.3 H442.8"/>
<path d="M438.3 135.5 H442.8"/>
<path d="M440.5 121.7 H442.8"/>
<path d="M438.3 107.9 H442.8"/>
<path d="M440.5 94.1 H442.8"/>
<path d="M438.3 80.3 H442.8"/>
<path d="M440.5 66.5 H442.8"/>
<path d="M438.3 52.7 H442.8"/>
<path d="M440.5 38.9 H442.8"/>
<path d="M438.3 25.1 H442.8"/>
<path d="M442.8 232.6 V236.4"/>
<path d="M456.5 232.6 V234.4"/>
<path d="M470.1 232.6 V236.4"/>
<path d="M483.8 232.6 V234.4"/>
<path d="M497.4 232.6 V236.4"/>
<path d="M511.1 232.6 V234.4"/>
<path d="M524.7 232.6 V236.4"/>
<path d="M538.4 232.6 V234.4"/>
<path d="M552.0 232.6 V236.4"/>
<path d="M565.6 232.6 V234.4"/>
<path d="M579.3 232.6 V236.4"/>
<path d="M593.0 232.6 V234.4"/>
<path d="M606.6 232.6 V236.4"/>
<path d="M620.2 232.6 V234.4"/>
<path d="M633.9 232.6 V236.4"/>
<path d="M647.5 232.6 V234.4"/>
<path d="M661.2 232.6 V236.4"/>
<path d="M674.9 232.6 V234.4"/>
<path d="M688.5 232.6 V236.4"/>
<path d="M702.2 232.6 V234.4"/>
</g>
<g font-family="'Liberation Serif', serif" font-weight="bold" stroke="#000" stroke-width="0.3" font-size="15.2" fill="#000">
<text x="436.0" y="222.5" text-anchor="end">1</text>
<text x="436.0" y="194.9" text-anchor="end">2</text>
<text x="436.0" y="167.3" text-anchor="end">3</text>
<text x="436.0" y="139.7" text-anchor="end">4</text>
<text x="436.0" y="112.1" text-anchor="end">5</text>
<text x="436.0" y="84.5" text-anchor="end">6</text>
<text x="436.0" y="56.9" text-anchor="end">7</text>
<text x="436.0" y="29.3" text-anchor="end">8</text>
<text font-size="15.5" x="442.4" y="250.3" text-anchor="middle">-10</text>
<text font-size="15.5" x="470.4" y="250.3" text-anchor="middle">0</text>
<text font-size="15.5" x="497.7" y="250.3" text-anchor="middle">10</text>
<text font-size="15.5" x="525.0" y="250.3" text-anchor="middle">20</text>
<text font-size="15.5" x="552.3" y="250.3" text-anchor="middle">30</text>
<text font-size="15.5" x="579.6" y="250.3" text-anchor="middle">40</text>
<text font-size="15.5" x="606.9" y="250.3" text-anchor="middle">50</text>
<text font-size="15.5" x="634.2" y="250.3" text-anchor="middle">60</text>
<text font-size="15.5" x="661.5" y="250.3" text-anchor="middle">70</text>
<text font-size="15.5" x="688.8" y="250.3" text-anchor="middle">80</text>
</g>
<text font-family="'Liberation Serif', serif" font-weight="bold" stroke="#000" stroke-width="0.3" font-size="15.8" x="512.0" y="275.8" textLength="122.2" lengthAdjust="spacing">[Saccharides]/mM</text>
<text font-family="'Liberation Serif', serif" font-weight="bold" stroke="#000" stroke-width="0.3" font-size="12.9" transform="translate(419.4 145.5) rotate(-90) scale(0.9 1)">I/I<tspan font-size="8.6" dy="4.2">0</tspan></text>
<rect x="596.4" y="34.8" width="13" height="25" fill="none" stroke="#f0f0fa" stroke-width="0.8"/>
<text font-family="'Liberation Serif', serif" font-weight="bold" stroke="#000" stroke-width="0.3" font-size="19.4" x="597.2" y="54.8">b</text>
<path d="M470.1 218.3 L483.8 161.2 L511.1 136.9 L538.4 122.8 L565.6 96.3 L579.3 92.2 L606.6 86.4 L674.9 83.1" fill="none" stroke="#1a1a1a" stroke-width="0.5"/>
<path d="M470.1 218.3 L483.8 203.5 L511.1 194.4 L538.4 184.9 L565.6 180.2 L579.3 179.1 L606.6 175.9 L674.9 173.7" fill="none" stroke="#e81818" stroke-width="0.5"/>
<path d="M470.1 218.3 L483.8 210.6 L511.1 210.0 L538.4 205.1 L565.6 204.5 L579.3 202.8 L606.6 200.4 L674.9 194.7" fill="none" stroke="#18e818" stroke-width="0.5"/>
<path d="M470.1 218.3 L483.8 198.2 L511.1 189.0 L538.4 175.4 L565.6 171.4 L579.3 170.6 L606.6 169.9 L674.9 164.6" fill="none" stroke="#1818e0" stroke-width="0.5"/>
<rect x="481.6" y="159.1" width="4.2" height="4.2" fill="#000000"/>
<rect x="508.9" y="134.8" width="4.2" height="4.2" fill="#000000"/>
<rect x="536.2" y="120.7" width="4.2" height="4.2" fill="#000000"/>
<rect x="563.5" y="94.2" width="4.2" height="4.2" fill="#000000"/>
<rect x="577.2" y="90.1" width="4.2" height="4.2" fill="#000000"/>
<rect x="604.5" y="84.3" width="4.2" height="4.2" fill="#000000"/>
<rect x="672.8" y="81.0" width="4.2" height="4.2" fill="#000000"/>
<circle cx="483.8" cy="203.5" r="2.25" fill="#e60000"/>
<circle cx="511.1" cy="194.4" r="2.25" fill="#e60000"/>
<circle cx="538.4" cy="184.9" r="2.25" fill="#e60000"/>
<circle cx="565.6" cy="180.2" r="2.25" fill="#e60000"/>
<circle cx="579.3" cy="179.1" r="2.25" fill="#e60000"/>
<circle cx="606.6" cy="175.9" r="2.25" fill="#e60000"/>
<circle cx="674.9" cy="173.7" r="2.25" fill="#e60000"/>
<path d="M483.8 207.8 L486.40 212.5 H481.10 Z" fill="#00e000"/>
<path d="M511.1 207.2 L513.70 211.9 H508.40 Z" fill="#00e000"/>
<path d="M538.4 202.3 L541.00 207.0 H535.70 Z" fill="#00e000"/>
<path d="M565.6 201.7 L568.30 206.4 H563.00 Z" fill="#00e000"/>
<path d="M579.3 200.0 L581.95 204.7 H576.65 Z" fill="#00e000"/>
<path d="M606.6 197.6 L609.25 202.3 H603.95 Z" fill="#00e000"/>
<path d="M674.9 191.9 L677.50 196.6 H672.20 Z" fill="#00e000"/>
<path d="M470.1 221.1 L472.75 216.4 H467.45 Z" fill="#0000d4"/>
<path d="M483.8 201.0 L486.40 196.3 H481.10 Z" fill="#0000d4"/>
<path d="M511.1 191.8 L513.70 187.1 H508.40 Z" fill="#0000d4"/>
<path d="M538.4 178.2 L541.00 173.5 H535.70 Z" fill="#0000d4"/>
<path d="M565.6 174.2 L568.30 169.5 H563.00 Z" fill="#0000d4"/>
<path d="M579.3 173.4 L581.95 168.7 H576.65 Z" fill="#0000d4"/>
<path d="M606.6 172.7 L609.25 168.0 H603.95 Z" fill="#0000d4"/>
<path d="M674.9 167.4 L677.50 162.7 H672.20 Z" fill="#0000d4"/>
<rect x="447.5" y="6.5" width="106" height="86" fill="#fff" stroke="#555" stroke-width="1"/>
<path d="M449.3 25.1 H458.4 M468 25.1 H477" stroke="#b4b4b4" stroke-width="1" fill="none"/>
<rect x="461.0" y="23.0" width="4.2" height="4.2" fill="#000000"/>
<text font-family="'Liberation Serif', serif" font-weight="bold" stroke="#000" stroke-width="0.2" font-size="16" x="480.0" y="29.6" textLength="53.3" lengthAdjust="spacing">Glucose</text>
<path d="M449.3 43.8 H458.4 M468 43.8 H477" stroke="#f6a8a8" stroke-width="1" fill="none"/>
<circle cx="463.1" cy="43.8" r="2.25" fill="#e60000"/>
<text font-family="'Liberation Serif', serif" font-weight="bold" stroke="#000" stroke-width="0.2" font-size="16" x="480.0" y="48.8" textLength="58.5" lengthAdjust="spacing">Fructose</text>
<path d="M449.3 62.8 H458.4 M468 62.8 H477" stroke="#88ee88" stroke-width="1" fill="none"/>
<path d="M463.1 60.0 L465.75 64.7 H460.45 Z" fill="#00e000"/>
<text font-family="'Liberation Serif', serif" font-weight="bold" stroke="#000" stroke-width="0.2" font-size="16" x="480.0" y="67.2" textLength="61.0" lengthAdjust="spacing">Mannose</text>
<path d="M449.3 82.1 H458.4 M468 82.1 H477" stroke="#a8a8f4" stroke-width="1" fill="none"/>
<path d="M463.1 84.9 L465.75 80.2 H460.45 Z" fill="#0000d4"/>
<text font-family="'Liberation Serif', serif" font-weight="bold" stroke="#000" stroke-width="0.2" font-size="16" x="480.0" y="86.3" textLength="65.1" lengthAdjust="spacing">Galactose</text>
</svg>
</body></html>
